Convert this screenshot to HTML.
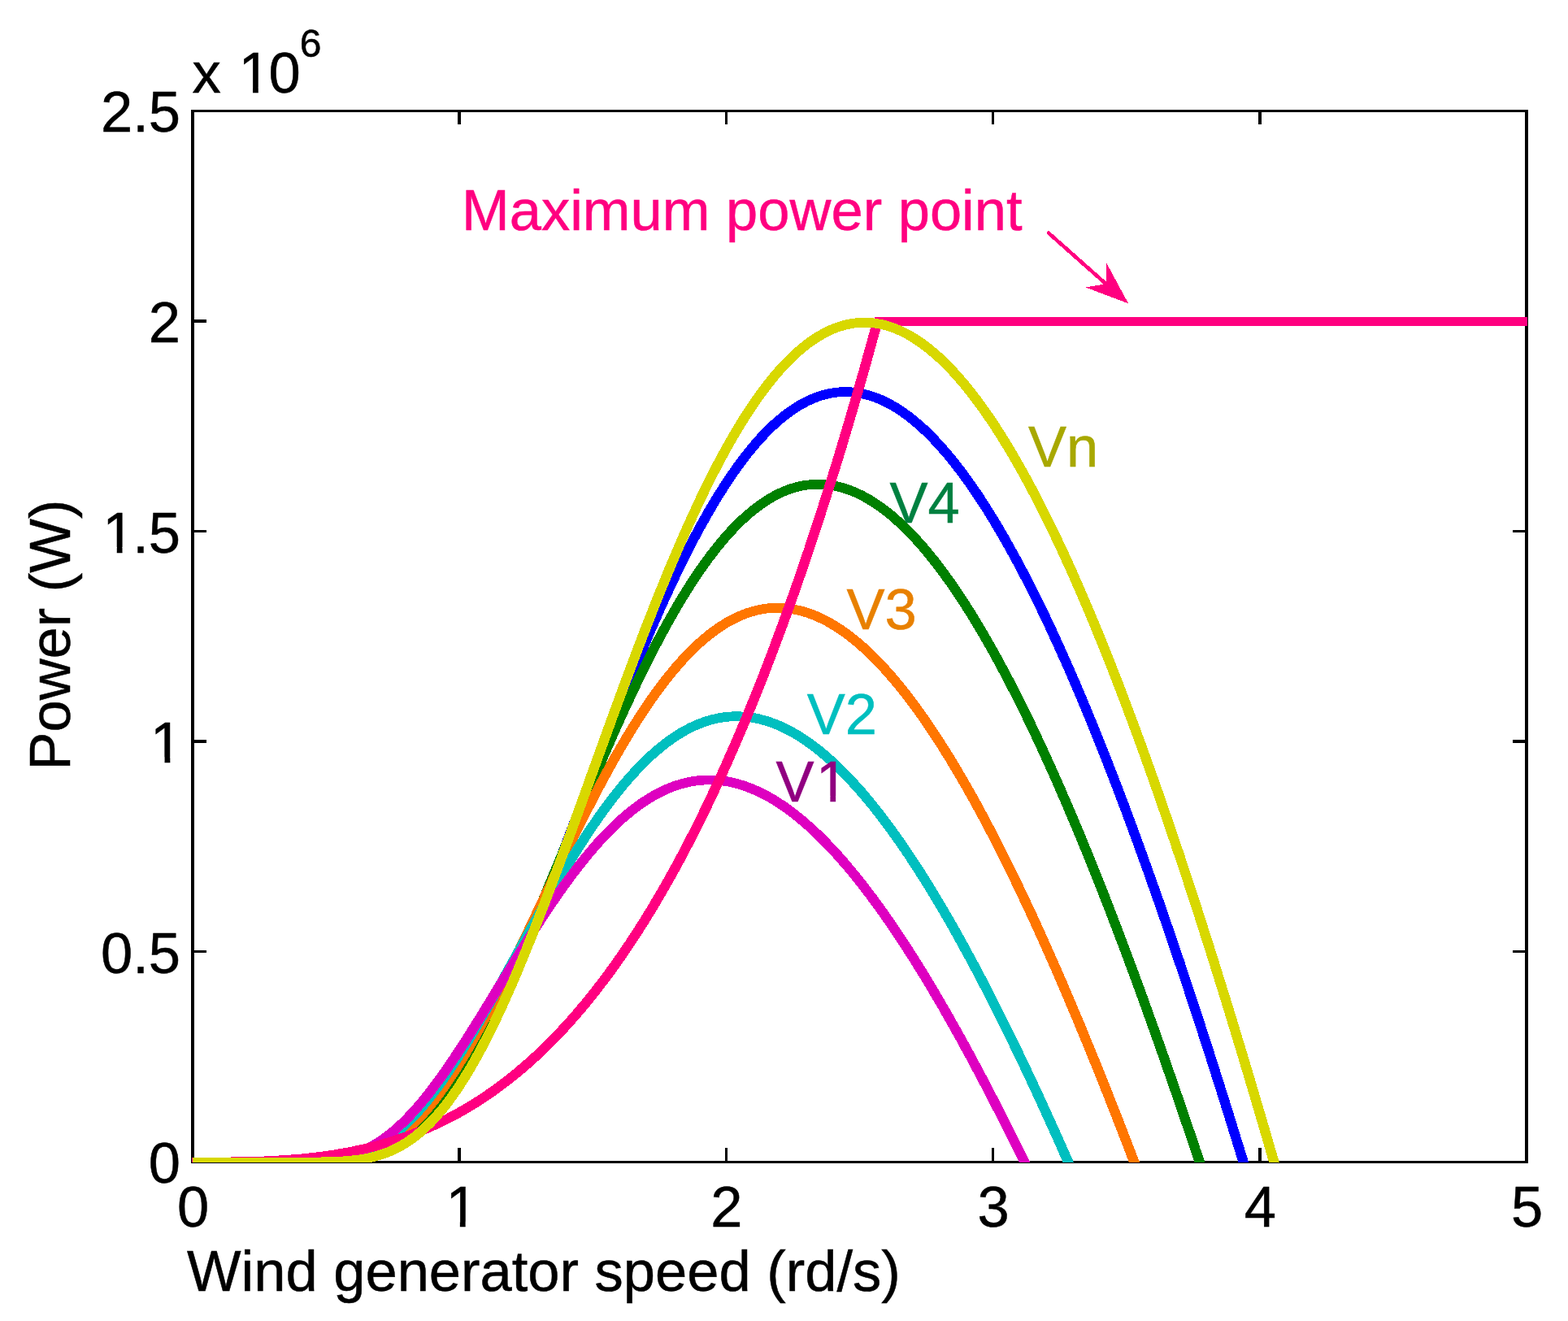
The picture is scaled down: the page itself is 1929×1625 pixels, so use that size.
<!DOCTYPE html>
<html lang="en"><head><meta charset="utf-8"><title>Power (W) vs Wind generator speed (rd/s)</title>
<style>
html,body{margin:0;padding:0;background:#fff;}
body{width:1929px;height:1625px;overflow:hidden;}
svg{display:block;}
text{font-family:"Liberation Sans",Arial,Helvetica,sans-serif;font-size:70.5px;fill:#000;stroke:#000;stroke-width:0.5px;}
</style></head><body>
<svg width="1929" height="1625" viewBox="0 0 1929 1625">
<rect width="1929" height="1625" fill="#fff"/>
<defs><clipPath id="box"><rect x="236" y="136" width="1643" height="1294"/></clipPath></defs>
<g fill="#000" shape-rendering="crispEdges">
<rect x="235" y="135" width="1645" height="3"/>
<rect x="235" y="1428" width="1645" height="3"/>
<rect x="235" y="135" width="4" height="1296"/>
<rect x="1876" y="135" width="4" height="1296"/>
<rect x="563" y="1412" width="4" height="16"/>
<rect x="563" y="138" width="4" height="15"/>
<rect x="892" y="1412" width="3" height="16"/>
<rect x="892" y="138" width="3" height="15"/>
<rect x="1220" y="1412" width="3" height="16"/>
<rect x="1220" y="138" width="3" height="15"/>
<rect x="1548" y="1412" width="4" height="16"/>
<rect x="1548" y="138" width="4" height="15"/>
<rect x="239" y="1169" width="15" height="3"/>
<rect x="1861" y="1169" width="15" height="3"/>
<rect x="239" y="910" width="15" height="4"/>
<rect x="1861" y="910" width="15" height="4"/>
<rect x="239" y="652" width="15" height="3"/>
<rect x="1861" y="652" width="15" height="3"/>
<rect x="239" y="393" width="15" height="4"/>
<rect x="1861" y="393" width="15" height="4"/>
</g>
<g clip-path="url(#box)" shape-rendering="crispEdges">
<path fill="#0000ff" d="M237.0 1435.3 L240.3 1435.3 L243.6 1435.3 L246.8 1435.3 L250.1 1435.3 L253.4 1435.3 L256.7 1435.3 L260.0 1435.3 L263.3 1435.3 L266.5 1435.3 L269.8 1435.3 L273.1 1435.3 L276.4 1435.3 L279.7 1435.3 L282.9 1435.3 L286.2 1435.4 L289.5 1435.3 L292.8 1435.3 L296.1 1435.3 L299.4 1435.3 L302.6 1435.3 L305.9 1435.3 L309.2 1435.3 L312.5 1435.3 L315.8 1435.3 L319.1 1435.3 L322.3 1435.3 L325.6 1435.3 L328.9 1435.3 L332.2 1435.3 L335.5 1435.3 L338.7 1435.3 L342.0 1435.3 L345.3 1435.3 L348.6 1435.3 L351.9 1435.3 L355.2 1435.3 L358.4 1435.3 L361.7 1435.3 L365.0 1435.3 L368.3 1435.3 L371.6 1435.3 L374.9 1435.3 L378.2 1435.3 L381.4 1435.3 L384.7 1435.3 L388.0 1435.2 L391.3 1435.2 L394.6 1435.1 L397.9 1435.1 L401.3 1435.0 L404.6 1434.9 L407.9 1434.8 L411.2 1434.6 L414.5 1434.5 L417.9 1434.3 L421.2 1434.1 L424.6 1433.8 L427.9 1433.5 L431.3 1433.2 L434.6 1432.8 L438.0 1432.3 L441.4 1431.8 L444.8 1431.3 L448.2 1430.7 L451.6 1430.0 L455.0 1429.2 L458.4 1428.3 L461.8 1427.4 L465.3 1426.4 L468.7 1425.2 L472.1 1424.0 L475.5 1422.7 L479.0 1421.2 L482.4 1419.7 L485.8 1418.0 L489.3 1416.2 L492.7 1414.3 L496.1 1412.3 L499.6 1410.1 L503.0 1407.9 L506.4 1405.4 L509.8 1402.9 L513.2 1400.2 L516.6 1397.4 L520.0 1394.4 L523.4 1391.3 L526.8 1388.0 L530.2 1384.6 L533.5 1381.1 L536.9 1377.4 L540.3 1373.6 L543.6 1369.6 L547.0 1365.5 L550.3 1361.2 L553.7 1356.8 L557.0 1352.3 L560.4 1347.6 L563.7 1342.7 L567.0 1337.8 L570.3 1332.6 L573.7 1327.4 L577.0 1322.0 L580.3 1316.4 L583.6 1310.8 L586.9 1305.0 L590.2 1299.0 L593.6 1293.0 L596.9 1286.8 L600.2 1280.5 L603.5 1274.0 L606.8 1267.5 L610.1 1260.8 L613.4 1254.0 L616.7 1247.2 L620.0 1240.2 L623.3 1233.1 L626.6 1225.9 L629.9 1218.6 L633.2 1211.2 L636.5 1203.7 L639.7 1196.1 L643.0 1188.4 L646.3 1180.7 L649.6 1172.9 L652.9 1165.0 L656.2 1157.1 L659.5 1149.0 L662.8 1140.9 L666.1 1132.8 L669.4 1124.6 L672.6 1116.3 L675.9 1108.0 L679.2 1099.7 L682.5 1091.3 L685.8 1082.9 L689.1 1074.4 L692.4 1065.9 L695.6 1057.4 L698.9 1048.9 L702.2 1040.3 L705.5 1031.8 L708.8 1023.2 L712.1 1014.6 L715.3 1006.0 L718.6 997.4 L721.9 988.8 L725.2 980.2 L728.5 971.6 L731.7 963.0 L735.0 954.4 L738.3 945.9 L741.6 937.4 L744.9 928.9 L748.1 920.4 L751.4 911.9 L754.7 903.5 L758.0 895.1 L761.3 886.7 L764.5 878.4 L767.8 870.2 L771.1 861.9 L774.4 853.8 L777.6 845.6 L780.9 837.5 L784.2 829.5 L787.5 821.6 L790.8 813.6 L794.0 805.8 L797.3 798.0 L800.6 790.3 L803.8 782.7 L807.1 775.1 L810.4 767.6 L813.7 760.1 L816.9 752.8 L820.2 745.5 L823.5 738.3 L826.8 731.2 L830.0 724.1 L833.3 717.2 L836.6 710.3 L839.8 703.5 L843.1 696.8 L846.4 690.2 L849.6 683.7 L852.9 677.3 L856.2 671.0 L859.4 664.7 L862.7 658.6 L865.9 652.5 L869.2 646.6 L872.5 640.8 L875.7 635.0 L879.0 629.4 L882.2 623.9 L885.5 618.4 L888.7 613.1 L892.0 607.9 L895.3 602.8 L898.5 597.8 L901.7 592.9 L905.0 588.1 L908.2 583.4 L911.5 578.8 L914.7 574.3 L918.0 570.0 L921.2 565.7 L924.4 561.6 L927.7 557.6 L930.9 553.7 L934.1 549.9 L937.3 546.2 L940.5 542.7 L943.8 539.2 L947.0 535.9 L950.2 532.6 L953.4 529.5 L956.6 526.5 L959.8 523.7 L963.0 520.9 L966.1 518.2 L969.3 515.7 L972.5 513.3 L975.7 511.0 L978.8 508.8 L982.0 506.7 L985.1 504.7 L988.3 502.9 L991.4 501.1 L994.5 499.5 L997.7 497.9 L1000.8 496.5 L1003.9 495.2 L1007.0 494.0 L1010.1 492.9 L1013.2 492.0 L1016.3 491.1 L1019.4 490.3 L1022.5 489.7 L1025.6 489.1 L1028.7 488.7 L1031.8 488.3 L1034.9 488.1 L1037.9 488.0 L1041.0 488.0 L1044.1 488.0 L1047.2 488.2 L1050.3 488.5 L1053.4 489.0 L1056.5 489.5 L1059.6 490.1 L1062.7 490.8 L1065.8 491.6 L1068.9 492.5 L1072.0 493.5 L1075.1 494.7 L1078.2 495.9 L1081.4 497.2 L1084.5 498.6 L1087.6 500.2 L1090.8 501.8 L1093.9 503.5 L1097.1 505.4 L1100.3 507.3 L1103.4 509.4 L1106.6 511.5 L1109.8 513.8 L1113.0 516.1 L1116.1 518.6 L1119.3 521.1 L1122.5 523.7 L1125.7 526.5 L1128.9 529.3 L1132.1 532.3 L1135.4 535.3 L1138.6 538.5 L1141.8 541.7 L1145.0 545.0 L1148.2 548.5 L1151.5 552.0 L1154.7 555.6 L1157.9 559.3 L1161.2 563.1 L1164.4 567.0 L1167.6 571.0 L1170.9 575.1 L1174.1 579.3 L1177.4 583.5 L1180.6 587.9 L1183.8 592.3 L1187.1 596.9 L1190.3 601.5 L1193.6 606.2 L1196.8 611.0 L1200.1 615.9 L1203.4 620.9 L1206.6 625.9 L1209.9 631.1 L1213.1 636.3 L1216.4 641.6 L1219.6 647.0 L1222.9 652.5 L1226.2 658.1 L1229.4 663.7 L1232.7 669.4 L1236.0 675.2 L1239.2 681.1 L1242.5 687.0 L1245.8 693.1 L1249.0 699.2 L1252.3 705.4 L1255.6 711.7 L1258.8 718.0 L1262.1 724.4 L1265.4 730.9 L1268.6 737.5 L1271.9 744.1 L1275.2 750.8 L1278.4 757.6 L1281.7 764.5 L1285.0 771.4 L1288.3 778.4 L1291.5 785.5 L1294.8 792.6 L1298.1 799.8 L1301.3 807.1 L1304.6 814.4 L1307.9 821.8 L1311.2 829.3 L1314.4 836.9 L1317.7 844.5 L1321.0 852.1 L1324.3 859.9 L1327.5 867.7 L1330.8 875.5 L1334.1 883.5 L1337.4 891.5 L1340.6 899.5 L1343.9 907.6 L1347.2 915.8 L1350.5 924.0 L1353.7 932.3 L1357.0 940.7 L1360.3 949.1 L1363.6 957.5 L1366.8 966.1 L1370.1 974.6 L1373.4 983.3 L1376.7 992.0 L1380.0 1000.7 L1383.2 1009.5 L1386.5 1018.4 L1389.8 1027.3 L1393.1 1036.2 L1396.3 1045.3 L1399.6 1054.3 L1402.9 1063.4 L1406.2 1072.6 L1409.5 1081.8 L1412.7 1091.1 L1416.0 1100.4 L1419.3 1109.8 L1422.6 1119.2 L1425.9 1128.7 L1429.1 1138.2 L1432.4 1147.7 L1435.7 1157.4 L1439.0 1167.0 L1442.2 1176.7 L1445.5 1186.5 L1448.8 1196.2 L1452.1 1206.1 L1455.4 1216.0 L1458.6 1225.9 L1461.9 1235.9 L1465.2 1245.9 L1468.5 1255.9 L1471.8 1266.0 L1475.0 1276.1 L1478.3 1286.3 L1481.6 1296.5 L1484.9 1306.8 L1488.2 1317.1 L1491.4 1327.4 L1494.7 1337.8 L1498.0 1348.2 L1501.3 1358.7 L1504.6 1369.2 L1507.8 1379.7 L1511.1 1390.2 L1514.4 1400.8 L1517.7 1411.5 L1521.0 1422.2 L1524.2 1432.9 L1527.5 1443.6 L1530.8 1454.4 L1534.1 1465.2 L1545.8 1461.6 L1542.5 1450.8 L1539.3 1440.0 L1536.0 1429.3 L1532.7 1418.5 L1529.4 1407.9 L1526.1 1397.2 L1522.8 1386.6 L1519.6 1376.0 L1516.3 1365.5 L1513.0 1355.0 L1509.7 1344.5 L1506.4 1334.1 L1503.1 1323.7 L1499.9 1313.4 L1496.6 1303.1 L1493.3 1292.8 L1490.0 1282.6 L1486.7 1272.4 L1483.4 1262.2 L1480.1 1252.1 L1476.9 1242.0 L1473.6 1232.0 L1470.3 1222.0 L1467.0 1212.1 L1463.7 1202.2 L1460.4 1192.4 L1457.2 1182.5 L1453.9 1172.8 L1450.6 1163.1 L1447.3 1153.4 L1444.0 1143.8 L1440.7 1134.2 L1437.4 1124.7 L1434.2 1115.2 L1430.9 1105.7 L1427.6 1096.4 L1424.3 1087.0 L1421.0 1077.7 L1417.7 1068.5 L1414.4 1059.3 L1411.2 1050.2 L1407.9 1041.1 L1404.6 1032.0 L1401.3 1023.1 L1398.0 1014.1 L1394.7 1005.2 L1391.4 996.4 L1388.2 987.6 L1384.9 978.9 L1381.6 970.3 L1378.3 961.7 L1375.0 953.1 L1371.7 944.6 L1368.4 936.2 L1365.1 927.8 L1361.9 919.5 L1358.6 911.2 L1355.3 903.0 L1352.0 894.9 L1348.7 886.8 L1345.4 878.8 L1342.1 870.8 L1338.8 863.0 L1335.6 855.1 L1332.3 847.4 L1329.0 839.6 L1325.7 832.0 L1322.4 824.4 L1319.1 816.9 L1315.8 809.5 L1312.5 802.1 L1309.2 794.8 L1305.9 787.5 L1302.6 780.3 L1299.4 773.2 L1296.1 766.2 L1292.8 759.2 L1289.5 752.3 L1286.2 745.5 L1282.9 738.7 L1279.6 732.1 L1276.3 725.4 L1273.0 718.9 L1269.7 712.4 L1266.4 706.0 L1263.1 699.7 L1259.8 693.5 L1256.5 687.3 L1253.2 681.2 L1249.9 675.2 L1246.6 669.2 L1243.3 663.4 L1240.0 657.6 L1236.7 651.9 L1233.4 646.3 L1230.1 640.7 L1226.8 635.3 L1223.5 629.9 L1220.2 624.6 L1216.9 619.4 L1213.6 614.2 L1210.3 609.2 L1207.0 604.2 L1203.7 599.3 L1200.3 594.5 L1197.0 589.8 L1193.7 585.2 L1190.4 580.7 L1187.1 576.2 L1183.8 571.9 L1180.4 567.6 L1177.1 563.4 L1173.8 559.3 L1170.5 555.3 L1167.1 551.4 L1163.8 547.6 L1160.5 543.8 L1157.1 540.2 L1153.8 536.7 L1150.4 533.2 L1147.1 529.8 L1143.7 526.6 L1140.4 523.4 L1137.0 520.3 L1133.7 517.4 L1130.3 514.5 L1126.9 511.7 L1123.6 509.0 L1120.2 506.5 L1116.8 504.0 L1113.4 501.6 L1110.0 499.3 L1106.6 497.1 L1103.2 495.1 L1099.8 493.1 L1096.4 491.2 L1093.0 489.5 L1089.6 487.8 L1086.1 486.3 L1082.7 484.8 L1079.3 483.5 L1075.8 482.3 L1072.4 481.2 L1068.9 480.2 L1065.5 479.3 L1062.0 478.5 L1058.5 477.8 L1055.1 477.3 L1051.6 476.9 L1048.1 476.5 L1044.6 476.3 L1041.2 476.2 L1037.7 476.3 L1034.2 476.4 L1030.7 476.6 L1027.2 477.0 L1023.8 477.5 L1020.3 478.1 L1016.8 478.8 L1013.3 479.6 L1009.9 480.6 L1006.4 481.7 L1003.0 482.8 L999.5 484.2 L996.1 485.6 L992.6 487.1 L989.2 488.8 L985.7 490.5 L982.3 492.4 L978.9 494.4 L975.5 496.6 L972.1 498.8 L968.7 501.1 L965.3 503.6 L961.9 506.2 L958.5 508.9 L955.1 511.7 L951.8 514.6 L948.4 517.6 L945.0 520.8 L941.7 524.0 L938.3 527.4 L934.9 530.9 L931.6 534.4 L928.2 538.1 L924.9 542.0 L921.6 545.9 L918.2 549.9 L914.9 554.0 L911.6 558.3 L908.2 562.7 L904.9 567.1 L901.6 571.7 L898.3 576.4 L894.9 581.2 L891.6 586.1 L888.3 591.1 L885.0 596.2 L881.7 601.4 L878.4 606.7 L875.0 612.1 L871.7 617.6 L868.4 623.2 L865.1 628.9 L861.8 634.8 L858.5 640.7 L855.2 646.7 L851.9 652.8 L848.6 659.0 L845.3 665.3 L842.0 671.7 L838.7 678.2 L835.4 684.8 L832.1 691.4 L828.8 698.2 L825.5 705.0 L822.2 711.9 L818.9 718.9 L815.6 726.0 L812.3 733.2 L809.1 740.4 L805.8 747.8 L802.5 755.2 L799.2 762.7 L795.9 770.2 L792.6 777.8 L789.3 785.5 L786.0 793.3 L782.7 801.1 L779.4 808.9 L776.1 816.9 L772.9 824.9 L769.6 832.9 L766.3 841.0 L763.0 849.2 L759.7 857.4 L756.4 865.6 L753.1 873.9 L749.9 882.3 L746.6 890.6 L743.3 899.0 L740.0 907.5 L736.7 915.9 L733.4 924.4 L730.1 933.0 L726.9 941.5 L723.6 950.1 L720.3 958.6 L717.0 967.2 L713.7 975.8 L710.4 984.4 L707.2 993.0 L703.9 1001.6 L700.6 1010.2 L697.3 1018.8 L694.0 1027.4 L690.8 1036.0 L687.5 1044.5 L684.2 1053.0 L680.9 1061.5 L677.6 1070.0 L674.4 1078.4 L671.1 1086.9 L667.8 1095.2 L664.5 1103.5 L661.2 1111.8 L658.0 1120.1 L654.7 1128.2 L651.4 1136.3 L648.1 1144.4 L644.9 1152.4 L641.6 1160.3 L638.3 1168.2 L635.0 1175.9 L631.8 1183.6 L628.5 1191.2 L625.2 1198.8 L622.0 1206.2 L618.7 1213.5 L615.4 1220.8 L612.2 1227.9 L608.9 1235.0 L605.6 1241.9 L602.4 1248.7 L599.1 1255.4 L595.8 1262.0 L592.6 1268.5 L589.3 1274.8 L586.1 1281.1 L582.8 1287.2 L579.5 1293.1 L576.3 1299.0 L573.0 1304.7 L569.8 1310.2 L566.5 1315.6 L563.3 1320.9 L560.1 1326.1 L556.8 1331.0 L553.6 1335.9 L550.4 1340.6 L547.1 1345.1 L543.9 1349.5 L540.7 1353.8 L537.5 1357.9 L534.3 1361.9 L531.1 1365.7 L527.9 1369.3 L524.7 1372.8 L521.5 1376.2 L518.3 1379.4 L515.1 1382.5 L511.9 1385.4 L508.8 1388.2 L505.6 1390.8 L502.4 1393.3 L499.3 1395.7 L496.1 1398.0 L493.0 1400.1 L489.9 1402.1 L486.7 1403.9 L483.6 1405.7 L480.5 1407.3 L477.3 1408.9 L474.2 1410.3 L471.1 1411.6 L467.9 1412.8 L464.8 1414.0 L461.7 1415.0 L458.5 1416.0 L455.4 1416.9 L452.2 1417.7 L449.1 1418.4 L445.9 1419.1 L442.7 1419.7 L439.6 1420.2 L436.4 1420.7 L433.2 1421.1 L430.0 1421.5 L426.8 1421.8 L423.6 1422.1 L420.4 1422.4 L417.1 1422.6 L413.9 1422.8 L410.7 1422.9 L407.4 1423.1 L404.2 1423.2 L400.9 1423.3 L397.7 1423.4 L394.4 1423.4 L391.2 1423.5 L387.9 1423.5 L384.6 1423.5 L381.4 1423.6 L378.1 1423.6 L374.8 1423.6 L371.5 1423.6 L368.3 1423.6 L365.0 1423.6 L361.7 1423.6 L358.4 1423.6 L355.1 1423.6 L351.9 1423.6 L348.6 1423.6 L345.3 1423.6 L342.0 1423.6 L338.7 1423.6 L335.5 1423.6 L332.2 1423.6 L328.9 1423.6 L325.6 1423.6 L322.3 1423.6 L319.0 1423.6 L315.8 1423.6 L312.5 1423.6 L309.2 1423.6 L305.9 1423.6 L302.6 1423.6 L299.4 1423.6 L296.1 1423.6 L292.8 1423.6 L289.5 1423.6 L286.2 1423.6 L282.9 1423.7 L279.7 1423.7 L276.4 1423.7 L273.1 1423.7 L269.8 1423.7 L266.5 1423.7 L263.3 1423.7 L260.0 1423.7 L256.7 1423.7 L253.4 1423.7 L250.1 1423.7 L246.8 1423.7 L243.6 1423.7 L240.3 1423.7 L237.0 1423.7Z"/>
<path fill="#008000" d="M237.0 1435.3 L240.3 1435.3 L243.6 1435.3 L246.8 1435.3 L250.1 1435.3 L253.4 1435.3 L256.7 1435.3 L260.0 1435.3 L263.3 1435.3 L266.5 1435.3 L269.8 1435.3 L273.1 1435.3 L276.4 1435.3 L279.7 1435.3 L282.9 1435.3 L286.2 1435.3 L289.5 1435.3 L292.8 1435.3 L296.1 1435.3 L299.4 1435.3 L302.6 1435.3 L305.9 1435.3 L309.2 1435.3 L312.5 1435.3 L315.8 1435.3 L319.1 1435.3 L322.3 1435.3 L325.6 1435.3 L328.9 1435.3 L332.2 1435.3 L335.5 1435.3 L338.7 1435.3 L342.0 1435.3 L345.3 1435.3 L348.6 1435.3 L351.9 1435.3 L355.2 1435.3 L358.4 1435.3 L361.7 1435.3 L365.0 1435.3 L368.3 1435.3 L371.6 1435.3 L374.9 1435.3 L378.2 1435.3 L381.5 1435.2 L384.8 1435.2 L388.1 1435.2 L391.4 1435.1 L394.7 1435.0 L398.0 1434.9 L401.3 1434.8 L404.6 1434.7 L408.0 1434.5 L411.3 1434.4 L414.6 1434.2 L418.0 1433.9 L421.3 1433.6 L424.7 1433.3 L428.1 1432.9 L431.4 1432.5 L434.8 1432.0 L438.2 1431.4 L441.6 1430.8 L445.0 1430.1 L448.4 1429.3 L451.8 1428.5 L455.3 1427.6 L458.7 1426.5 L462.1 1425.4 L465.5 1424.2 L469.0 1422.9 L472.4 1421.5 L475.8 1419.9 L479.3 1418.3 L482.7 1416.5 L486.1 1414.6 L489.6 1412.6 L493.0 1410.4 L496.4 1408.2 L499.8 1405.8 L503.2 1403.2 L506.6 1400.6 L510.0 1397.8 L513.4 1394.8 L516.8 1391.8 L520.2 1388.5 L523.6 1385.2 L526.9 1381.7 L530.3 1378.1 L533.7 1374.3 L537.0 1370.4 L540.4 1366.3 L543.7 1362.1 L547.1 1357.8 L550.4 1353.4 L553.7 1348.8 L557.1 1344.0 L560.4 1339.2 L563.7 1334.2 L567.1 1329.1 L570.4 1323.8 L573.7 1318.4 L577.0 1312.9 L580.3 1307.3 L583.6 1301.5 L586.9 1295.7 L590.3 1289.7 L593.6 1283.6 L596.9 1277.4 L600.2 1271.1 L603.5 1264.7 L606.8 1258.2 L610.1 1251.6 L613.4 1244.9 L616.7 1238.1 L620.0 1231.2 L623.3 1224.3 L626.5 1217.2 L629.8 1210.1 L633.1 1202.9 L636.4 1195.7 L639.7 1188.3 L643.0 1180.9 L646.3 1173.5 L649.6 1166.0 L652.9 1158.4 L656.2 1150.8 L659.4 1143.2 L662.7 1135.5 L666.0 1127.8 L669.3 1120.0 L672.6 1112.2 L675.9 1104.4 L679.2 1096.6 L682.4 1088.7 L685.7 1080.9 L689.0 1073.0 L692.3 1065.1 L695.6 1057.2 L698.9 1049.3 L702.1 1041.4 L705.4 1033.5 L708.7 1025.6 L712.0 1017.7 L715.3 1009.8 L718.5 1002.0 L721.8 994.2 L725.1 986.4 L728.4 978.6 L731.7 970.8 L734.9 963.1 L738.2 955.4 L741.5 947.8 L744.8 940.2 L748.0 932.6 L751.3 925.1 L754.6 917.6 L757.9 910.2 L761.1 902.8 L764.4 895.5 L767.7 888.2 L771.0 881.0 L774.2 873.9 L777.5 866.8 L780.8 859.8 L784.1 852.8 L787.3 846.0 L790.6 839.1 L793.9 832.4 L797.1 825.7 L800.4 819.2 L803.7 812.7 L806.9 806.2 L810.2 799.9 L813.5 793.6 L816.7 787.4 L820.0 781.4 L823.3 775.3 L826.5 769.4 L829.8 763.6 L833.1 757.9 L836.3 752.2 L839.6 746.7 L842.8 741.2 L846.1 735.9 L849.3 730.6 L852.6 725.4 L855.9 720.4 L859.1 715.4 L862.4 710.5 L865.6 705.8 L868.8 701.1 L872.1 696.5 L875.3 692.1 L878.6 687.7 L881.8 683.5 L885.0 679.3 L888.3 675.3 L891.5 671.4 L894.7 667.5 L898.0 663.8 L901.2 660.2 L904.4 656.7 L907.6 653.3 L910.8 650.0 L914.0 646.9 L917.2 643.8 L920.4 640.8 L923.6 638.0 L926.8 635.2 L930.0 632.6 L933.2 630.1 L936.4 627.7 L939.5 625.4 L942.7 623.2 L945.9 621.1 L949.0 619.1 L952.2 617.2 L955.3 615.5 L958.5 613.8 L961.6 612.3 L964.7 610.8 L967.9 609.5 L971.0 608.3 L974.1 607.1 L977.2 606.1 L980.3 605.2 L983.4 604.4 L986.5 603.7 L989.6 603.1 L992.7 602.6 L995.8 602.1 L998.9 601.8 L1002.0 601.6 L1005.1 601.5 L1008.2 601.5 L1011.3 601.6 L1014.4 601.8 L1017.5 602.2 L1020.6 602.6 L1023.7 603.1 L1026.8 603.7 L1029.9 604.4 L1033.0 605.2 L1036.1 606.1 L1039.2 607.1 L1042.3 608.2 L1045.5 609.4 L1048.6 610.7 L1051.7 612.0 L1054.9 613.5 L1058.0 615.1 L1061.2 616.8 L1064.4 618.6 L1067.5 620.5 L1070.7 622.4 L1073.9 624.5 L1077.0 626.7 L1080.2 628.9 L1083.4 631.3 L1086.6 633.7 L1089.8 636.3 L1093.0 638.9 L1096.2 641.7 L1099.4 644.5 L1102.6 647.4 L1105.8 650.4 L1109.1 653.5 L1112.3 656.7 L1115.5 660.0 L1118.7 663.4 L1122.0 666.9 L1125.2 670.5 L1128.4 674.1 L1131.7 677.8 L1134.9 681.7 L1138.1 685.6 L1141.4 689.6 L1144.6 693.7 L1147.9 697.8 L1151.1 702.1 L1154.4 706.4 L1157.6 710.8 L1160.8 715.4 L1164.1 719.9 L1167.4 724.6 L1170.6 729.4 L1173.9 734.2 L1177.1 739.1 L1180.4 744.1 L1183.6 749.2 L1186.9 754.3 L1190.2 759.5 L1193.4 764.8 L1196.7 770.2 L1199.9 775.7 L1203.2 781.2 L1206.5 786.8 L1209.7 792.5 L1213.0 798.2 L1216.3 804.1 L1219.5 809.9 L1222.8 815.9 L1226.1 822.0 L1229.3 828.1 L1232.6 834.2 L1235.9 840.5 L1239.1 846.8 L1242.4 853.2 L1245.7 859.6 L1248.9 866.2 L1252.2 872.7 L1255.5 879.4 L1258.8 886.1 L1262.0 892.9 L1265.3 899.7 L1268.6 906.6 L1271.8 913.6 L1275.1 920.6 L1278.4 927.7 L1281.7 934.9 L1284.9 942.1 L1288.2 949.4 L1291.5 956.7 L1294.8 964.1 L1298.0 971.6 L1301.3 979.1 L1304.6 986.6 L1307.9 994.3 L1311.1 1001.9 L1314.4 1009.7 L1317.7 1017.5 L1321.0 1025.3 L1324.2 1033.2 L1327.5 1041.2 L1330.8 1049.2 L1334.1 1057.2 L1337.3 1065.3 L1340.6 1073.5 L1343.9 1081.7 L1347.2 1090.0 L1350.5 1098.3 L1353.7 1106.7 L1357.0 1115.1 L1360.3 1123.5 L1363.6 1132.1 L1366.8 1140.6 L1370.1 1149.2 L1373.4 1157.9 L1376.7 1166.6 L1380.0 1175.3 L1383.2 1184.1 L1386.5 1192.9 L1389.8 1201.8 L1393.1 1210.7 L1396.3 1219.7 L1399.6 1228.7 L1402.9 1237.8 L1406.2 1246.9 L1409.5 1256.0 L1412.7 1265.2 L1416.0 1274.4 L1419.3 1283.7 L1422.6 1293.0 L1425.9 1302.3 L1429.1 1311.7 L1432.4 1321.1 L1435.7 1330.5 L1439.0 1340.0 L1442.3 1349.6 L1445.5 1359.1 L1448.8 1368.7 L1452.1 1378.4 L1455.4 1388.0 L1458.7 1397.7 L1461.9 1407.5 L1465.2 1417.3 L1468.5 1427.1 L1471.8 1436.9 L1475.1 1446.8 L1478.3 1456.7 L1481.6 1466.7 L1493.3 1462.8 L1490.0 1452.9 L1486.7 1442.9 L1483.4 1433.0 L1480.1 1423.2 L1476.8 1413.4 L1473.6 1403.6 L1470.3 1393.8 L1467.0 1384.1 L1463.7 1374.4 L1460.4 1364.8 L1457.1 1355.1 L1453.9 1345.6 L1450.6 1336.0 L1447.3 1326.5 L1444.0 1317.1 L1440.7 1307.6 L1437.4 1298.2 L1434.2 1288.9 L1430.9 1279.6 L1427.6 1270.3 L1424.3 1261.1 L1421.0 1251.9 L1417.7 1242.7 L1414.4 1233.6 L1411.2 1224.5 L1407.9 1215.5 L1404.6 1206.5 L1401.3 1197.6 L1398.0 1188.7 L1394.7 1179.8 L1391.4 1171.0 L1388.2 1162.3 L1384.9 1153.5 L1381.6 1144.9 L1378.3 1136.2 L1375.0 1127.7 L1371.7 1119.1 L1368.4 1110.6 L1365.2 1102.2 L1361.9 1093.8 L1358.6 1085.5 L1355.3 1077.2 L1352.0 1069.0 L1348.7 1060.8 L1345.4 1052.6 L1342.1 1044.5 L1338.9 1036.5 L1335.6 1028.5 L1332.3 1020.6 L1329.0 1012.7 L1325.7 1004.9 L1322.4 997.1 L1319.1 989.4 L1315.8 981.8 L1312.5 974.2 L1309.3 966.6 L1306.0 959.2 L1302.7 951.7 L1299.4 944.4 L1296.1 937.1 L1292.8 929.8 L1289.5 922.6 L1286.2 915.5 L1282.9 908.4 L1279.6 901.4 L1276.4 894.5 L1273.1 887.6 L1269.8 880.8 L1266.5 874.0 L1263.2 867.3 L1259.9 860.7 L1256.6 854.1 L1253.3 847.6 L1250.0 841.2 L1246.7 834.8 L1243.4 828.5 L1240.1 822.3 L1236.8 816.2 L1233.5 810.1 L1230.2 804.0 L1226.9 798.1 L1223.6 792.2 L1220.3 786.4 L1217.0 780.7 L1213.7 775.0 L1210.4 769.4 L1207.1 763.9 L1203.8 758.5 L1200.5 753.1 L1197.2 747.8 L1193.9 742.6 L1190.6 737.5 L1187.3 732.4 L1184.0 727.4 L1180.7 722.5 L1177.4 717.7 L1174.1 712.9 L1170.8 708.3 L1167.4 703.7 L1164.1 699.2 L1160.8 694.7 L1157.5 690.4 L1154.2 686.1 L1150.9 682.0 L1147.5 677.9 L1144.2 673.9 L1140.9 669.9 L1137.6 666.1 L1134.2 662.3 L1130.9 658.7 L1127.6 655.1 L1124.2 651.6 L1120.9 648.2 L1117.5 644.9 L1114.2 641.7 L1110.8 638.5 L1107.5 635.5 L1104.1 632.5 L1100.8 629.7 L1097.4 626.9 L1094.0 624.2 L1090.7 621.7 L1087.3 619.2 L1083.9 616.8 L1080.5 614.5 L1077.1 612.3 L1073.7 610.2 L1070.3 608.2 L1066.9 606.3 L1063.5 604.5 L1060.1 602.8 L1056.7 601.2 L1053.3 599.7 L1049.8 598.3 L1046.4 597.0 L1043.0 595.8 L1039.5 594.7 L1036.1 593.7 L1032.6 592.9 L1029.2 592.1 L1025.7 591.4 L1022.2 590.9 L1018.8 590.5 L1015.3 590.1 L1011.8 589.9 L1008.4 589.8 L1004.9 589.8 L1001.4 589.9 L998.0 590.1 L994.5 590.5 L991.0 590.9 L987.5 591.4 L984.1 592.1 L980.6 592.9 L977.2 593.8 L973.7 594.8 L970.2 595.9 L966.8 597.1 L963.3 598.5 L959.9 599.9 L956.5 601.5 L953.0 603.2 L949.6 604.9 L946.2 606.8 L942.8 608.9 L939.4 611.0 L936.0 613.2 L932.6 615.5 L929.2 618.0 L925.8 620.5 L922.4 623.2 L919.1 626.0 L915.7 628.9 L912.3 631.9 L908.9 635.0 L905.6 638.2 L902.2 641.5 L898.9 644.9 L895.5 648.4 L892.2 652.1 L888.8 655.8 L885.5 659.6 L882.2 663.6 L878.8 667.6 L875.5 671.8 L872.2 676.0 L868.8 680.4 L865.5 684.9 L862.2 689.4 L858.9 694.1 L855.6 698.8 L852.2 703.7 L848.9 708.7 L845.6 713.7 L842.3 718.9 L839.0 724.1 L835.7 729.5 L832.4 734.9 L829.1 740.4 L825.8 746.1 L822.5 751.8 L819.2 757.6 L815.9 763.5 L812.6 769.5 L809.3 775.5 L806.0 781.7 L802.7 787.9 L799.4 794.3 L796.1 800.7 L792.8 807.1 L789.5 813.7 L786.2 820.3 L782.9 827.0 L779.6 833.8 L776.3 840.7 L773.0 847.6 L769.7 854.6 L766.4 861.6 L763.1 868.8 L759.8 875.9 L756.5 883.2 L753.3 890.5 L750.0 897.8 L746.7 905.2 L743.4 912.7 L740.1 920.2 L736.8 927.7 L733.5 935.3 L730.2 942.9 L726.9 950.6 L723.7 958.3 L720.4 966.1 L717.1 973.8 L713.8 981.6 L710.5 989.4 L707.2 997.3 L704.0 1005.1 L700.7 1013.0 L697.4 1020.9 L694.1 1028.8 L690.8 1036.7 L687.5 1044.6 L684.3 1052.5 L681.0 1060.4 L677.7 1068.3 L674.4 1076.1 L671.1 1084.0 L667.9 1091.9 L664.6 1099.7 L661.3 1107.5 L658.0 1115.2 L654.7 1123.0 L651.5 1130.7 L648.2 1138.4 L644.9 1146.0 L641.6 1153.6 L638.4 1161.1 L635.1 1168.6 L631.8 1176.0 L628.5 1183.3 L625.3 1190.6 L622.0 1197.8 L618.7 1205.0 L615.4 1212.1 L612.2 1219.0 L608.9 1226.0 L605.6 1232.8 L602.4 1239.5 L599.1 1246.1 L595.8 1252.7 L592.6 1259.1 L589.3 1265.5 L586.0 1271.7 L582.8 1277.8 L579.5 1283.8 L576.3 1289.7 L573.0 1295.5 L569.8 1301.1 L566.5 1306.7 L563.3 1312.1 L560.0 1317.3 L556.8 1322.5 L553.5 1327.5 L550.3 1332.4 L547.1 1337.1 L543.8 1341.7 L540.6 1346.1 L537.4 1350.5 L534.2 1354.6 L530.9 1358.7 L527.7 1362.6 L524.5 1366.3 L521.3 1369.9 L518.1 1373.4 L514.9 1376.7 L511.7 1379.9 L508.6 1382.9 L505.4 1385.8 L502.2 1388.5 L499.1 1391.2 L495.9 1393.7 L492.7 1396.0 L489.6 1398.2 L486.4 1400.3 L483.3 1402.3 L480.2 1404.2 L477.0 1405.9 L473.9 1407.6 L470.8 1409.1 L467.6 1410.5 L464.5 1411.8 L461.4 1413.0 L458.2 1414.2 L455.1 1415.2 L452.0 1416.2 L448.8 1417.0 L445.7 1417.8 L442.5 1418.6 L439.4 1419.2 L436.2 1419.8 L433.0 1420.3 L429.8 1420.8 L426.6 1421.2 L423.4 1421.6 L420.2 1421.9 L417.0 1422.2 L413.8 1422.4 L410.6 1422.7 L407.4 1422.8 L404.1 1423.0 L400.9 1423.1 L397.6 1423.2 L394.4 1423.3 L391.1 1423.4 L387.9 1423.4 L384.6 1423.5 L381.3 1423.5 L378.1 1423.6 L374.8 1423.6 L371.5 1423.6 L368.3 1423.6 L365.0 1423.6 L361.7 1423.6 L358.4 1423.6 L355.1 1423.6 L351.9 1423.6 L348.6 1423.6 L345.3 1423.6 L342.0 1423.6 L338.7 1423.6 L335.5 1423.6 L332.2 1423.6 L328.9 1423.6 L325.6 1423.6 L322.3 1423.6 L319.0 1423.6 L315.8 1423.6 L312.5 1423.6 L309.2 1423.6 L305.9 1423.6 L302.6 1423.6 L299.4 1423.6 L296.1 1423.6 L292.8 1423.6 L289.5 1423.6 L286.2 1423.6 L282.9 1423.7 L279.7 1423.7 L276.4 1423.7 L273.1 1423.7 L269.8 1423.7 L266.5 1423.7 L263.3 1423.7 L260.0 1423.7 L256.7 1423.7 L253.4 1423.7 L250.1 1423.7 L246.8 1423.7 L243.6 1423.7 L240.3 1423.7 L237.0 1423.7Z"/>
<path fill="#ff7600" d="M237.0 1435.3 L240.3 1435.3 L243.6 1435.3 L246.8 1435.3 L250.1 1435.3 L253.4 1435.3 L256.7 1435.3 L260.0 1435.3 L263.3 1435.3 L266.5 1435.3 L269.8 1435.3 L273.1 1435.3 L276.4 1435.3 L279.7 1435.3 L282.9 1435.3 L286.2 1435.3 L289.5 1435.3 L292.8 1435.3 L296.1 1435.3 L299.4 1435.3 L302.6 1435.3 L305.9 1435.3 L309.2 1435.3 L312.5 1435.3 L315.8 1435.3 L319.1 1435.3 L322.3 1435.3 L325.6 1435.3 L328.9 1435.3 L332.2 1435.3 L335.5 1435.3 L338.7 1435.3 L342.0 1435.3 L345.3 1435.3 L348.6 1435.3 L351.9 1435.3 L355.2 1435.3 L358.4 1435.3 L361.7 1435.3 L365.0 1435.3 L368.3 1435.3 L371.6 1435.3 L374.9 1435.2 L378.2 1435.2 L381.5 1435.1 L384.8 1435.1 L388.1 1435.0 L391.4 1434.9 L394.8 1434.8 L398.1 1434.6 L401.4 1434.5 L404.8 1434.3 L408.1 1434.0 L411.5 1433.8 L414.8 1433.4 L418.2 1433.1 L421.6 1432.6 L425.0 1432.2 L428.3 1431.6 L431.7 1431.0 L435.1 1430.3 L438.6 1429.6 L442.0 1428.8 L445.4 1427.8 L448.8 1426.8 L452.2 1425.7 L455.7 1424.5 L459.1 1423.2 L462.5 1421.8 L466.0 1420.3 L469.4 1418.6 L472.8 1416.9 L476.3 1415.0 L479.7 1413.0 L483.1 1410.9 L486.5 1408.7 L489.9 1406.3 L493.3 1403.8 L496.7 1401.2 L500.1 1398.4 L503.5 1395.6 L506.9 1392.5 L510.3 1389.4 L513.7 1386.1 L517.0 1382.7 L520.4 1379.2 L523.8 1375.5 L527.1 1371.7 L530.5 1367.8 L533.8 1363.8 L537.2 1359.6 L540.5 1355.3 L543.8 1350.9 L547.2 1346.3 L550.5 1341.7 L553.8 1336.9 L557.1 1332.0 L560.5 1327.0 L563.8 1321.9 L567.1 1316.7 L570.4 1311.3 L573.7 1305.9 L577.0 1300.4 L580.3 1294.8 L583.6 1289.0 L586.9 1283.2 L590.2 1277.4 L593.5 1271.4 L596.8 1265.3 L600.1 1259.2 L603.4 1253.0 L606.7 1246.7 L610.0 1240.4 L613.3 1234.0 L616.6 1227.5 L619.9 1221.0 L623.2 1214.5 L626.5 1207.8 L629.8 1201.2 L633.1 1194.5 L636.3 1187.8 L639.6 1181.0 L642.9 1174.2 L646.2 1167.4 L649.5 1160.5 L652.8 1153.7 L656.1 1146.8 L659.3 1139.9 L662.6 1133.0 L665.9 1126.1 L669.2 1119.2 L672.5 1112.3 L675.8 1105.4 L679.0 1098.5 L682.3 1091.6 L685.6 1084.7 L688.9 1077.8 L692.2 1071.0 L695.4 1064.2 L698.7 1057.4 L702.0 1050.7 L705.3 1043.9 L708.5 1037.2 L711.8 1030.6 L715.1 1024.0 L718.4 1017.4 L721.6 1010.9 L724.9 1004.4 L728.2 998.0 L731.5 991.6 L734.7 985.2 L738.0 979.0 L741.3 972.8 L744.5 966.6 L747.8 960.5 L751.1 954.5 L754.3 948.5 L757.6 942.6 L760.9 936.8 L764.1 931.1 L767.4 925.4 L770.7 919.8 L773.9 914.3 L777.2 908.8 L780.5 903.4 L783.7 898.2 L787.0 892.9 L790.2 887.8 L793.5 882.8 L796.7 877.8 L800.0 873.0 L803.2 868.2 L806.5 863.5 L809.7 858.9 L813.0 854.4 L816.2 850.0 L819.5 845.7 L822.7 841.5 L826.0 837.3 L829.2 833.3 L832.4 829.3 L835.7 825.5 L838.9 821.8 L842.1 818.1 L845.3 814.6 L848.6 811.1 L851.8 807.8 L855.0 804.5 L858.2 801.4 L861.4 798.3 L864.6 795.4 L867.8 792.6 L871.0 789.8 L874.2 787.2 L877.4 784.6 L880.6 782.2 L883.8 779.9 L887.0 777.6 L890.1 775.5 L893.3 773.5 L896.5 771.5 L899.6 769.7 L902.8 768.0 L905.9 766.3 L909.1 764.8 L912.2 763.4 L915.3 762.0 L918.5 760.8 L921.6 759.7 L924.7 758.6 L927.8 757.7 L930.9 756.9 L934.1 756.1 L937.2 755.5 L940.3 754.9 L943.4 754.5 L946.5 754.1 L949.6 753.8 L952.7 753.7 L955.8 753.6 L958.9 753.6 L962.0 753.7 L965.1 753.9 L968.2 754.3 L971.3 754.7 L974.5 755.2 L977.6 755.7 L980.7 756.4 L983.8 757.2 L986.9 758.1 L990.1 759.0 L993.2 760.1 L996.3 761.2 L999.5 762.4 L1002.6 763.7 L1005.8 765.2 L1008.9 766.7 L1012.1 768.2 L1015.3 769.9 L1018.4 771.7 L1021.6 773.6 L1024.8 775.5 L1028.0 777.6 L1031.1 779.7 L1034.3 781.9 L1037.5 784.2 L1040.7 786.6 L1043.9 789.1 L1047.1 791.6 L1050.3 794.3 L1053.5 797.0 L1056.8 799.9 L1060.0 802.8 L1063.2 805.8 L1066.4 808.8 L1069.6 812.0 L1072.9 815.2 L1076.1 818.6 L1079.3 822.0 L1082.6 825.4 L1085.8 829.0 L1089.0 832.7 L1092.3 836.4 L1095.5 840.2 L1098.8 844.1 L1102.0 848.0 L1105.3 852.1 L1108.5 856.2 L1111.8 860.4 L1115.0 864.6 L1118.3 869.0 L1121.5 873.4 L1124.8 877.8 L1128.0 882.4 L1131.3 887.0 L1134.5 891.7 L1137.8 896.5 L1141.0 901.3 L1144.3 906.3 L1147.6 911.2 L1150.8 916.3 L1154.1 921.4 L1157.3 926.6 L1160.6 931.8 L1163.9 937.1 L1167.1 942.5 L1170.4 948.0 L1173.7 953.5 L1176.9 959.1 L1180.2 964.7 L1183.5 970.4 L1186.7 976.2 L1190.0 982.0 L1193.3 987.9 L1196.5 993.8 L1199.8 999.8 L1203.1 1005.9 L1206.4 1012.0 L1209.6 1018.2 L1212.9 1024.4 L1216.2 1030.7 L1219.4 1037.1 L1222.7 1043.5 L1226.0 1049.9 L1229.3 1056.4 L1232.5 1063.0 L1235.8 1069.6 L1239.1 1076.3 L1242.3 1083.0 L1245.6 1089.8 L1248.9 1096.6 L1252.2 1103.5 L1255.4 1110.5 L1258.7 1117.4 L1262.0 1124.5 L1265.3 1131.6 L1268.5 1138.7 L1271.8 1145.9 L1275.1 1153.1 L1278.4 1160.4 L1281.6 1167.7 L1284.9 1175.1 L1288.2 1182.5 L1291.5 1189.9 L1294.8 1197.4 L1298.0 1205.0 L1301.3 1212.6 L1304.6 1220.2 L1307.9 1227.9 L1311.1 1235.6 L1314.4 1243.3 L1317.7 1251.1 L1321.0 1259.0 L1324.2 1266.8 L1327.5 1274.8 L1330.8 1282.7 L1334.1 1290.7 L1337.4 1298.7 L1340.6 1306.8 L1343.9 1314.9 L1347.2 1323.1 L1350.5 1331.3 L1353.7 1339.5 L1357.0 1347.7 L1360.3 1356.0 L1363.6 1364.4 L1366.9 1372.7 L1370.1 1381.1 L1373.4 1389.5 L1376.7 1398.0 L1380.0 1406.5 L1383.3 1415.0 L1386.5 1423.6 L1389.8 1432.2 L1393.1 1440.8 L1396.4 1449.5 L1399.7 1458.1 L1411.1 1453.8 L1407.8 1445.1 L1404.6 1436.4 L1401.3 1427.8 L1398.0 1419.2 L1394.7 1410.6 L1391.4 1402.1 L1388.1 1393.6 L1384.9 1385.1 L1381.6 1376.7 L1378.3 1368.2 L1375.0 1359.9 L1371.7 1351.5 L1368.4 1343.2 L1365.1 1334.9 L1361.9 1326.7 L1358.6 1318.5 L1355.3 1310.3 L1352.0 1302.2 L1348.7 1294.1 L1345.4 1286.1 L1342.1 1278.1 L1338.9 1270.1 L1335.6 1262.1 L1332.3 1254.2 L1329.0 1246.4 L1325.7 1238.6 L1322.4 1230.8 L1319.1 1223.1 L1315.8 1215.4 L1312.6 1207.7 L1309.3 1200.1 L1306.0 1192.5 L1302.7 1185.0 L1299.4 1177.5 L1296.1 1170.1 L1292.8 1162.7 L1289.5 1155.4 L1286.3 1148.1 L1283.0 1140.8 L1279.7 1133.6 L1276.4 1126.4 L1273.1 1119.3 L1269.8 1112.3 L1266.5 1105.3 L1263.2 1098.3 L1259.9 1091.4 L1256.7 1084.5 L1253.4 1077.7 L1250.1 1070.9 L1246.8 1064.2 L1243.5 1057.6 L1240.2 1051.0 L1236.9 1044.4 L1233.6 1037.9 L1230.3 1031.5 L1227.0 1025.1 L1223.7 1018.7 L1220.4 1012.5 L1217.2 1006.2 L1213.9 1000.1 L1210.6 994.0 L1207.3 987.9 L1204.0 981.9 L1200.7 976.0 L1197.4 970.1 L1194.1 964.3 L1190.8 958.6 L1187.5 952.9 L1184.2 947.3 L1180.9 941.7 L1177.6 936.2 L1174.3 930.8 L1171.0 925.4 L1167.7 920.1 L1164.4 914.9 L1161.1 909.7 L1157.8 904.6 L1154.5 899.5 L1151.2 894.6 L1147.9 889.7 L1144.6 884.8 L1141.3 880.1 L1138.0 875.4 L1134.6 870.7 L1131.3 866.2 L1128.0 861.7 L1124.7 857.3 L1121.4 852.9 L1118.1 848.7 L1114.8 844.5 L1111.5 840.3 L1108.1 836.3 L1104.8 832.3 L1101.5 828.4 L1098.2 824.6 L1094.8 820.9 L1091.5 817.2 L1088.2 813.6 L1084.8 810.1 L1081.5 806.7 L1078.2 803.4 L1074.8 800.1 L1071.5 796.9 L1068.2 793.8 L1064.8 790.8 L1061.5 787.9 L1058.1 785.0 L1054.7 782.3 L1051.4 779.6 L1048.0 777.0 L1044.7 774.5 L1041.3 772.1 L1037.9 769.7 L1034.5 767.5 L1031.1 765.3 L1027.8 763.3 L1024.4 761.3 L1021.0 759.4 L1017.6 757.6 L1014.2 755.9 L1010.8 754.3 L1007.4 752.8 L1003.9 751.4 L1000.5 750.0 L997.1 748.8 L993.7 747.7 L990.2 746.7 L986.8 745.7 L983.3 744.9 L979.9 744.2 L976.4 743.5 L973.0 743.0 L969.5 742.6 L966.1 742.2 L962.6 742.0 L959.2 741.9 L955.7 741.9 L952.3 741.9 L948.8 742.1 L945.3 742.4 L941.9 742.8 L938.4 743.3 L935.0 743.9 L931.5 744.6 L928.1 745.4 L924.6 746.3 L921.2 747.3 L917.7 748.4 L914.3 749.7 L910.8 751.0 L907.4 752.4 L904.0 754.0 L900.6 755.6 L897.2 757.4 L893.7 759.2 L890.3 761.2 L886.9 763.3 L883.5 765.4 L880.1 767.7 L876.8 770.1 L873.4 772.5 L870.0 775.1 L866.6 777.8 L863.3 780.6 L859.9 783.4 L856.5 786.4 L853.2 789.5 L849.8 792.7 L846.5 795.9 L843.1 799.3 L839.8 802.8 L836.4 806.3 L833.1 810.0 L829.8 813.8 L826.4 817.6 L823.1 821.6 L819.8 825.6 L816.4 829.8 L813.1 834.0 L809.8 838.3 L806.5 842.7 L803.1 847.2 L799.8 851.8 L796.5 856.5 L793.2 861.3 L789.9 866.1 L786.6 871.1 L783.3 876.1 L780.0 881.2 L776.7 886.4 L773.3 891.7 L770.0 897.1 L766.7 902.5 L763.4 908.0 L760.1 913.6 L756.8 919.3 L753.5 925.0 L750.2 930.8 L746.9 936.7 L743.6 942.6 L740.3 948.6 L737.0 954.7 L733.8 960.8 L730.5 967.0 L727.2 973.3 L723.9 979.6 L720.6 986.0 L717.3 992.4 L714.0 998.9 L710.7 1005.4 L707.4 1011.9 L704.1 1018.5 L700.8 1025.2 L697.6 1031.9 L694.3 1038.6 L691.0 1045.3 L687.7 1052.1 L684.4 1058.9 L681.1 1065.7 L677.8 1072.6 L674.5 1079.4 L671.3 1086.3 L668.0 1093.2 L664.7 1100.1 L661.4 1107.0 L658.1 1113.9 L654.8 1120.8 L651.6 1127.7 L648.3 1134.6 L645.0 1141.5 L641.7 1148.4 L638.4 1155.2 L635.2 1162.1 L631.9 1168.9 L628.6 1175.6 L625.3 1182.4 L622.1 1189.1 L618.8 1195.8 L615.5 1202.4 L612.2 1209.0 L609.0 1215.5 L605.7 1222.0 L602.4 1228.4 L599.2 1234.8 L595.9 1241.1 L592.6 1247.3 L589.3 1253.4 L586.1 1259.5 L582.8 1265.5 L579.6 1271.4 L576.3 1277.2 L573.0 1283.0 L569.8 1288.6 L566.5 1294.2 L563.3 1299.6 L560.0 1304.9 L556.7 1310.2 L553.5 1315.3 L550.3 1320.3 L547.0 1325.2 L543.8 1330.0 L540.5 1334.6 L537.3 1339.2 L534.1 1343.6 L530.8 1347.9 L527.6 1352.1 L524.4 1356.1 L521.2 1360.0 L517.9 1363.8 L514.7 1367.4 L511.5 1370.9 L508.3 1374.3 L505.1 1377.5 L501.9 1380.6 L498.8 1383.6 L495.6 1386.4 L492.4 1389.1 L489.2 1391.7 L486.1 1394.2 L482.9 1396.5 L479.8 1398.7 L476.6 1400.8 L473.5 1402.7 L470.3 1404.6 L467.2 1406.3 L464.1 1407.9 L460.9 1409.4 L457.8 1410.8 L454.7 1412.1 L451.6 1413.3 L448.4 1414.5 L445.3 1415.5 L442.1 1416.4 L439.0 1417.3 L435.8 1418.1 L432.7 1418.8 L429.5 1419.4 L426.4 1420.0 L423.2 1420.5 L420.0 1421.0 L416.8 1421.4 L413.6 1421.7 L410.4 1422.0 L407.2 1422.3 L404.0 1422.6 L400.8 1422.8 L397.5 1422.9 L394.3 1423.1 L391.1 1423.2 L387.8 1423.3 L384.6 1423.4 L381.3 1423.4 L378.0 1423.5 L374.8 1423.5 L371.5 1423.6 L368.2 1423.6 L365.0 1423.6 L361.7 1423.6 L358.4 1423.6 L355.1 1423.6 L351.9 1423.6 L348.6 1423.6 L345.3 1423.6 L342.0 1423.6 L338.7 1423.6 L335.5 1423.6 L332.2 1423.6 L328.9 1423.6 L325.6 1423.6 L322.3 1423.6 L319.0 1423.6 L315.8 1423.6 L312.5 1423.6 L309.2 1423.6 L305.9 1423.6 L302.6 1423.6 L299.4 1423.6 L296.1 1423.6 L292.8 1423.6 L289.5 1423.6 L286.2 1423.6 L282.9 1423.6 L279.7 1423.7 L276.4 1423.7 L273.1 1423.7 L269.8 1423.7 L266.5 1423.7 L263.3 1423.7 L260.0 1423.7 L256.7 1423.7 L253.4 1423.7 L250.1 1423.7 L246.8 1423.7 L243.6 1423.7 L240.3 1423.7 L237.0 1423.7Z"/>
<path fill="#00bfbf" d="M237.0 1435.3 L240.3 1435.3 L243.6 1435.3 L246.8 1435.3 L250.1 1435.3 L253.4 1435.3 L256.7 1435.3 L260.0 1435.3 L263.3 1435.3 L266.5 1435.3 L269.8 1435.3 L273.1 1435.3 L276.4 1435.3 L279.7 1435.4 L282.9 1435.3 L286.2 1435.3 L289.5 1435.3 L292.8 1435.3 L296.1 1435.3 L299.4 1435.3 L302.6 1435.3 L305.9 1435.3 L309.2 1435.3 L312.5 1435.3 L315.8 1435.3 L319.1 1435.3 L322.3 1435.3 L325.6 1435.3 L328.9 1435.3 L332.2 1435.3 L335.5 1435.3 L338.7 1435.3 L342.0 1435.3 L345.3 1435.3 L348.6 1435.3 L351.9 1435.3 L355.2 1435.3 L358.5 1435.3 L361.8 1435.3 L365.1 1435.3 L368.4 1435.2 L371.7 1435.2 L375.0 1435.1 L378.3 1435.1 L381.6 1435.0 L384.9 1434.9 L388.2 1434.7 L391.6 1434.6 L394.9 1434.4 L398.3 1434.1 L401.6 1433.9 L405.0 1433.6 L408.3 1433.2 L411.7 1432.8 L415.1 1432.3 L418.5 1431.8 L421.9 1431.2 L425.3 1430.5 L428.7 1429.8 L432.1 1429.0 L435.5 1428.1 L439.0 1427.1 L442.4 1426.0 L445.8 1424.8 L449.2 1423.5 L452.7 1422.1 L456.1 1420.6 L459.5 1418.9 L463.0 1417.2 L466.4 1415.4 L469.8 1413.4 L473.2 1411.3 L476.6 1409.1 L480.0 1406.8 L483.5 1404.3 L486.8 1401.8 L490.2 1399.1 L493.6 1396.3 L497.0 1393.3 L500.4 1390.3 L503.8 1387.1 L507.1 1383.8 L510.5 1380.4 L513.8 1376.9 L517.2 1373.2 L520.5 1369.4 L523.9 1365.6 L527.2 1361.6 L530.6 1357.5 L533.9 1353.3 L537.2 1348.9 L540.5 1344.5 L543.9 1340.0 L547.2 1335.4 L550.5 1330.7 L553.8 1325.9 L557.1 1321.0 L560.4 1316.0 L563.8 1311.0 L567.1 1305.9 L570.4 1300.6 L573.7 1295.4 L577.0 1290.0 L580.3 1284.6 L583.6 1279.1 L586.9 1273.6 L590.2 1268.0 L593.5 1262.4 L596.7 1256.7 L600.0 1251.0 L603.3 1245.2 L606.6 1239.4 L609.9 1233.5 L613.2 1227.7 L616.5 1221.8 L619.8 1215.9 L623.1 1209.9 L626.3 1204.0 L629.6 1198.0 L632.9 1192.1 L636.2 1186.1 L639.5 1180.1 L642.8 1174.1 L646.0 1168.2 L649.3 1162.2 L652.6 1156.3 L655.9 1150.3 L659.2 1144.4 L662.4 1138.5 L665.7 1132.6 L669.0 1126.8 L672.3 1121.0 L675.5 1115.2 L678.8 1109.4 L682.1 1103.7 L685.4 1098.1 L688.6 1092.4 L691.9 1086.8 L695.2 1081.3 L698.4 1075.8 L701.7 1070.3 L705.0 1065.0 L708.2 1059.6 L711.5 1054.4 L714.8 1049.1 L718.0 1044.0 L721.3 1038.9 L724.6 1033.9 L727.8 1028.9 L731.1 1024.0 L734.3 1019.2 L737.6 1014.4 L740.9 1009.8 L744.1 1005.2 L747.4 1000.6 L750.6 996.2 L753.9 991.8 L757.1 987.5 L760.4 983.3 L763.6 979.2 L766.8 975.2 L770.1 971.2 L773.3 967.3 L776.6 963.5 L779.8 959.8 L783.0 956.2 L786.3 952.7 L789.5 949.3 L792.7 945.9 L795.9 942.7 L799.2 939.5 L802.4 936.4 L805.6 933.4 L808.8 930.6 L812.0 927.8 L815.2 925.1 L818.4 922.5 L821.6 919.9 L824.8 917.5 L828.0 915.2 L831.2 913.0 L834.3 910.8 L837.5 908.8 L840.7 906.8 L843.9 905.0 L847.0 903.2 L850.2 901.5 L853.3 899.9 L856.5 898.5 L859.6 897.1 L862.8 895.8 L865.9 894.6 L869.1 893.4 L872.2 892.4 L875.3 891.5 L878.4 890.6 L881.6 889.9 L884.7 889.2 L887.8 888.7 L890.9 888.2 L894.0 887.8 L897.2 887.5 L900.3 887.3 L903.4 887.1 L906.5 887.1 L909.6 887.1 L912.7 887.3 L915.9 887.5 L919.0 887.8 L922.1 888.3 L925.2 888.7 L928.4 889.3 L931.5 890.0 L934.6 890.7 L937.8 891.6 L940.9 892.5 L944.0 893.5 L947.2 894.6 L950.3 895.8 L953.5 897.0 L956.7 898.4 L959.8 899.8 L963.0 901.3 L966.2 902.9 L969.3 904.6 L972.5 906.3 L975.7 908.2 L978.9 910.1 L982.1 912.1 L985.3 914.2 L988.5 916.3 L991.6 918.6 L994.9 920.9 L998.1 923.3 L1001.3 925.8 L1004.5 928.3 L1007.7 931.0 L1010.9 933.7 L1014.1 936.5 L1017.4 939.3 L1020.6 942.3 L1023.8 945.3 L1027.0 948.4 L1030.3 951.5 L1033.5 954.8 L1036.7 958.1 L1040.0 961.5 L1043.2 964.9 L1046.4 968.5 L1049.7 972.1 L1052.9 975.7 L1056.2 979.5 L1059.4 983.3 L1062.7 987.1 L1065.9 991.1 L1069.2 995.1 L1072.4 999.2 L1075.7 1003.3 L1078.9 1007.5 L1082.2 1011.8 L1085.4 1016.1 L1088.7 1020.5 L1092.0 1025.0 L1095.2 1029.5 L1098.5 1034.1 L1101.7 1038.7 L1105.0 1043.4 L1108.3 1048.2 L1111.5 1053.0 L1114.8 1057.9 L1118.0 1062.8 L1121.3 1067.8 L1124.6 1072.9 L1127.8 1078.0 L1131.1 1083.1 L1134.4 1088.4 L1137.6 1093.6 L1140.9 1099.0 L1144.2 1104.4 L1147.4 1109.8 L1150.7 1115.3 L1154.0 1120.8 L1157.2 1126.4 L1160.5 1132.1 L1163.8 1137.7 L1167.1 1143.5 L1170.3 1149.3 L1173.6 1155.1 L1176.9 1161.0 L1180.1 1167.0 L1183.4 1172.9 L1186.7 1179.0 L1190.0 1185.0 L1193.2 1191.2 L1196.5 1197.3 L1199.8 1203.5 L1203.0 1209.8 L1206.3 1216.1 L1209.6 1222.4 L1212.9 1228.8 L1216.1 1235.3 L1219.4 1241.7 L1222.7 1248.2 L1226.0 1254.8 L1229.2 1261.4 L1232.5 1268.0 L1235.8 1274.7 L1239.1 1281.4 L1242.3 1288.1 L1245.6 1294.9 L1248.9 1301.7 L1252.2 1308.6 L1255.5 1315.5 L1258.7 1322.4 L1262.0 1329.4 L1265.3 1336.4 L1268.6 1343.4 L1271.8 1350.5 L1275.1 1357.6 L1278.4 1364.7 L1281.7 1371.9 L1284.9 1379.1 L1288.2 1386.3 L1291.5 1393.6 L1294.8 1400.9 L1298.1 1408.2 L1301.3 1415.6 L1304.6 1423.0 L1307.9 1430.4 L1311.2 1437.8 L1314.4 1445.3 L1317.7 1452.8 L1321.0 1460.4 L1332.2 1455.5 L1329.0 1447.9 L1325.7 1440.4 L1322.4 1432.9 L1319.1 1425.5 L1315.8 1418.0 L1312.5 1410.6 L1309.2 1403.2 L1306.0 1395.9 L1302.7 1388.6 L1299.4 1381.3 L1296.1 1374.0 L1292.8 1366.8 L1289.5 1359.6 L1286.2 1352.5 L1283.0 1345.3 L1279.7 1338.3 L1276.4 1331.2 L1273.1 1324.2 L1269.8 1317.2 L1266.5 1310.2 L1263.2 1303.3 L1259.9 1296.4 L1256.7 1289.6 L1253.4 1282.8 L1250.1 1276.0 L1246.8 1269.3 L1243.5 1262.6 L1240.2 1255.9 L1236.9 1249.3 L1233.6 1242.7 L1230.3 1236.2 L1227.1 1229.7 L1223.8 1223.3 L1220.5 1216.8 L1217.2 1210.5 L1213.9 1204.1 L1210.6 1197.9 L1207.3 1191.6 L1204.0 1185.4 L1200.7 1179.3 L1197.4 1173.2 L1194.1 1167.1 L1190.9 1161.1 L1187.6 1155.1 L1184.3 1149.2 L1181.0 1143.3 L1177.7 1137.5 L1174.4 1131.7 L1171.1 1125.9 L1167.8 1120.3 L1164.5 1114.6 L1161.2 1109.0 L1157.9 1103.5 L1154.6 1098.0 L1151.3 1092.6 L1148.0 1087.2 L1144.7 1081.9 L1141.4 1076.6 L1138.1 1071.4 L1134.8 1066.3 L1131.5 1061.2 L1128.2 1056.1 L1124.9 1051.1 L1121.6 1046.2 L1118.3 1041.3 L1115.0 1036.5 L1111.7 1031.7 L1108.4 1027.0 L1105.1 1022.4 L1101.8 1017.8 L1098.5 1013.3 L1095.2 1008.8 L1091.9 1004.4 L1088.6 1000.1 L1085.3 995.8 L1082.0 991.6 L1078.6 987.4 L1075.3 983.4 L1072.0 979.4 L1068.7 975.4 L1065.4 971.5 L1062.1 967.7 L1058.7 964.0 L1055.4 960.3 L1052.1 956.7 L1048.8 953.1 L1045.4 949.7 L1042.1 946.3 L1038.8 942.9 L1035.5 939.7 L1032.1 936.5 L1028.8 933.4 L1025.4 930.3 L1022.1 927.4 L1018.8 924.5 L1015.4 921.7 L1012.1 918.9 L1008.7 916.3 L1005.4 913.7 L1002.0 911.2 L998.6 908.7 L995.3 906.4 L991.9 904.1 L988.5 901.9 L985.2 899.8 L981.8 897.8 L978.4 895.9 L975.0 894.0 L971.6 892.2 L968.2 890.5 L964.8 888.9 L961.4 887.4 L958.0 886.0 L954.6 884.6 L951.2 883.4 L947.8 882.2 L944.4 881.1 L940.9 880.1 L937.5 879.3 L934.1 878.4 L930.6 877.7 L927.2 877.1 L923.8 876.6 L920.3 876.2 L916.9 875.8 L913.4 875.6 L910.0 875.4 L906.5 875.4 L903.1 875.4 L899.7 875.5 L896.2 875.8 L892.8 876.1 L889.3 876.5 L885.9 877.0 L882.4 877.6 L879.0 878.4 L875.5 879.2 L872.1 880.1 L868.7 881.1 L865.2 882.2 L861.8 883.4 L858.4 884.7 L855.0 886.1 L851.5 887.6 L848.1 889.2 L844.7 890.9 L841.3 892.7 L837.9 894.5 L834.5 896.5 L831.1 898.6 L827.7 900.8 L824.4 903.0 L821.0 905.4 L817.6 907.8 L814.2 910.4 L810.9 913.0 L807.5 915.8 L804.1 918.6 L800.8 921.5 L797.4 924.5 L794.1 927.6 L790.7 930.8 L787.4 934.1 L784.0 937.4 L780.7 940.9 L777.4 944.4 L774.0 948.1 L770.7 951.8 L767.4 955.6 L764.0 959.5 L760.7 963.4 L757.4 967.5 L754.1 971.6 L750.8 975.8 L747.4 980.1 L744.1 984.5 L740.8 989.0 L737.5 993.5 L734.2 998.1 L730.9 1002.8 L727.6 1007.5 L724.3 1012.3 L721.0 1017.2 L717.6 1022.2 L714.3 1027.2 L711.0 1032.3 L707.7 1037.4 L704.4 1042.6 L701.1 1047.9 L697.8 1053.2 L694.5 1058.6 L691.3 1064.0 L688.0 1069.5 L684.7 1075.1 L681.4 1080.6 L678.1 1086.3 L674.8 1091.9 L671.5 1097.6 L668.2 1103.4 L664.9 1109.2 L661.6 1115.0 L658.3 1120.8 L655.0 1126.7 L651.8 1132.6 L648.5 1138.5 L645.2 1144.4 L641.9 1150.4 L638.6 1156.3 L635.3 1162.3 L632.0 1168.3 L628.8 1174.2 L625.5 1180.2 L622.2 1186.2 L618.9 1192.1 L615.6 1198.1 L612.4 1204.0 L609.1 1209.9 L605.8 1215.8 L602.5 1221.7 L599.3 1227.6 L596.0 1233.4 L592.7 1239.2 L589.4 1244.9 L586.2 1250.6 L582.9 1256.2 L579.6 1261.8 L576.4 1267.4 L573.1 1272.9 L569.8 1278.3 L566.6 1283.6 L563.3 1288.9 L560.0 1294.1 L556.8 1299.3 L553.5 1304.3 L550.3 1309.3 L547.0 1314.2 L543.8 1319.0 L540.5 1323.7 L537.3 1328.3 L534.0 1332.8 L530.8 1337.3 L527.5 1341.6 L524.3 1345.8 L521.1 1349.9 L517.8 1353.8 L514.6 1357.7 L511.4 1361.4 L508.2 1365.1 L505.0 1368.6 L501.8 1372.0 L498.6 1375.2 L495.4 1378.4 L492.2 1381.4 L489.0 1384.3 L485.8 1387.1 L482.6 1389.7 L479.5 1392.2 L476.3 1394.7 L473.1 1396.9 L470.0 1399.1 L466.8 1401.1 L463.7 1403.1 L460.5 1404.9 L457.4 1406.6 L454.3 1408.2 L451.1 1409.7 L448.0 1411.1 L444.9 1412.4 L441.7 1413.6 L438.6 1414.7 L435.5 1415.7 L432.3 1416.6 L429.2 1417.5 L426.0 1418.3 L422.9 1419.0 L419.7 1419.6 L416.5 1420.2 L413.4 1420.7 L410.2 1421.1 L407.0 1421.5 L403.8 1421.9 L400.6 1422.2 L397.4 1422.4 L394.2 1422.7 L390.9 1422.8 L387.7 1423.0 L384.5 1423.1 L381.2 1423.2 L378.0 1423.3 L374.7 1423.4 L371.5 1423.5 L368.2 1423.5 L364.9 1423.6 L361.7 1423.6 L358.4 1423.6 L355.1 1423.6 L351.9 1423.6 L348.6 1423.6 L345.3 1423.6 L342.0 1423.6 L338.7 1423.6 L335.5 1423.6 L332.2 1423.6 L328.9 1423.6 L325.6 1423.6 L322.3 1423.6 L319.0 1423.6 L315.8 1423.6 L312.5 1423.6 L309.2 1423.6 L305.9 1423.6 L302.6 1423.6 L299.4 1423.6 L296.1 1423.6 L292.8 1423.6 L289.5 1423.6 L286.2 1423.6 L282.9 1423.6 L279.7 1423.6 L276.4 1423.7 L273.1 1423.7 L269.8 1423.7 L266.5 1423.7 L263.3 1423.7 L260.0 1423.7 L256.7 1423.7 L253.4 1423.7 L250.1 1423.7 L246.8 1423.7 L243.6 1423.7 L240.3 1423.7 L237.0 1423.7Z"/>
<path fill="#de00c0" d="M237.0 1435.3 L240.3 1435.3 L243.6 1435.3 L246.8 1435.3 L250.1 1435.3 L253.4 1435.3 L256.7 1435.3 L260.0 1435.3 L263.3 1435.3 L266.5 1435.3 L269.8 1435.3 L273.1 1435.3 L276.4 1435.4 L279.7 1435.3 L282.9 1435.3 L286.2 1435.3 L289.5 1435.3 L292.8 1435.3 L296.1 1435.3 L299.4 1435.3 L302.6 1435.3 L305.9 1435.3 L309.2 1435.3 L312.5 1435.3 L315.8 1435.3 L319.1 1435.3 L322.3 1435.3 L325.6 1435.3 L328.9 1435.3 L332.2 1435.3 L335.5 1435.3 L338.7 1435.3 L342.0 1435.3 L345.3 1435.3 L348.6 1435.3 L351.9 1435.3 L355.2 1435.3 L358.5 1435.3 L361.8 1435.2 L365.1 1435.2 L368.4 1435.1 L371.7 1435.1 L375.0 1435.0 L378.3 1434.9 L381.7 1434.8 L385.0 1434.6 L388.3 1434.4 L391.7 1434.2 L395.0 1434.0 L398.4 1433.7 L401.8 1433.3 L405.1 1432.9 L408.5 1432.4 L411.9 1431.9 L415.3 1431.3 L418.7 1430.7 L422.1 1429.9 L425.5 1429.1 L429.0 1428.2 L432.4 1427.2 L435.8 1426.1 L439.2 1424.9 L442.7 1423.7 L446.1 1422.3 L449.5 1420.8 L452.9 1419.2 L456.4 1417.5 L459.8 1415.6 L463.2 1413.7 L466.6 1411.6 L470.0 1409.5 L473.4 1407.2 L476.8 1404.8 L480.2 1402.2 L483.6 1399.6 L487.0 1396.8 L490.4 1394.0 L493.8 1391.0 L497.1 1387.9 L500.5 1384.7 L503.9 1381.4 L507.2 1377.9 L510.6 1374.4 L513.9 1370.7 L517.3 1367.0 L520.6 1363.2 L523.9 1359.2 L527.3 1355.2 L530.6 1351.0 L533.9 1346.8 L537.2 1342.5 L540.5 1338.1 L543.9 1333.6 L547.2 1329.1 L550.5 1324.4 L553.8 1319.7 L557.1 1315.0 L560.4 1310.1 L563.7 1305.2 L567.0 1300.3 L570.3 1295.3 L573.6 1290.2 L576.9 1285.1 L580.2 1279.9 L583.5 1274.8 L586.8 1269.5 L590.1 1264.3 L593.4 1259.0 L596.7 1253.7 L599.9 1248.3 L603.2 1243.0 L606.5 1237.6 L609.8 1232.2 L613.1 1226.8 L616.4 1221.5 L619.6 1216.1 L622.9 1210.7 L626.2 1205.3 L629.5 1199.9 L632.8 1194.5 L636.0 1189.2 L639.3 1183.9 L642.6 1178.6 L645.9 1173.3 L649.1 1168.0 L652.4 1162.8 L655.7 1157.6 L659.0 1152.4 L662.2 1147.3 L665.5 1142.2 L668.8 1137.1 L672.0 1132.1 L675.3 1127.2 L678.6 1122.3 L681.8 1117.4 L685.1 1112.6 L688.4 1107.8 L691.6 1103.1 L694.9 1098.5 L698.1 1093.9 L701.4 1089.4 L704.7 1085.0 L707.9 1080.6 L711.2 1076.3 L714.4 1072.0 L717.7 1067.9 L720.9 1063.8 L724.2 1059.7 L727.4 1055.8 L730.7 1051.9 L733.9 1048.1 L737.1 1044.4 L740.4 1040.7 L743.6 1037.2 L746.9 1033.7 L750.1 1030.3 L753.3 1027.0 L756.5 1023.7 L759.8 1020.6 L763.0 1017.5 L766.2 1014.5 L769.4 1011.6 L772.6 1008.8 L775.8 1006.1 L779.0 1003.5 L782.2 1000.9 L785.4 998.4 L788.6 996.1 L791.8 993.8 L795.0 991.6 L798.2 989.5 L801.4 987.5 L804.6 985.6 L807.7 983.7 L810.9 982.0 L814.1 980.3 L817.2 978.7 L820.4 977.2 L823.5 975.9 L826.7 974.5 L829.8 973.3 L833.0 972.2 L836.1 971.1 L839.3 970.2 L842.4 969.3 L845.5 968.5 L848.7 967.8 L851.8 967.2 L854.9 966.7 L858.0 966.2 L861.2 965.9 L864.3 965.6 L867.4 965.4 L870.5 965.3 L873.7 965.3 L876.8 965.4 L879.9 965.5 L883.0 965.8 L886.2 966.1 L889.3 966.5 L892.4 967.0 L895.6 967.5 L898.7 968.2 L901.9 968.9 L905.0 969.7 L908.1 970.6 L911.3 971.6 L914.4 972.6 L917.6 973.8 L920.8 975.0 L923.9 976.3 L927.1 977.6 L930.3 979.1 L933.4 980.6 L936.6 982.2 L939.8 983.9 L943.0 985.6 L946.2 987.5 L949.4 989.4 L952.5 991.4 L955.7 993.4 L958.9 995.6 L962.1 997.8 L965.4 1000.1 L968.6 1002.4 L971.8 1004.9 L975.0 1007.4 L978.2 1009.9 L981.4 1012.6 L984.7 1015.3 L987.9 1018.1 L991.1 1021.0 L994.3 1023.9 L997.6 1026.9 L1000.8 1030.0 L1004.0 1033.1 L1007.3 1036.3 L1010.5 1039.6 L1013.7 1042.9 L1017.0 1046.3 L1020.2 1049.8 L1023.5 1053.3 L1026.7 1056.9 L1030.0 1060.6 L1033.2 1064.3 L1036.5 1068.1 L1039.7 1071.9 L1043.0 1075.8 L1046.2 1079.8 L1049.5 1083.8 L1052.7 1087.9 L1056.0 1092.0 L1059.2 1096.2 L1062.5 1100.5 L1065.8 1104.8 L1069.0 1109.2 L1072.3 1113.6 L1075.5 1118.1 L1078.8 1122.6 L1082.1 1127.2 L1085.3 1131.8 L1088.6 1136.5 L1091.9 1141.3 L1095.1 1146.1 L1098.4 1150.9 L1101.6 1155.8 L1104.9 1160.8 L1108.2 1165.8 L1111.4 1170.8 L1114.7 1175.9 L1118.0 1181.1 L1121.3 1186.2 L1124.5 1191.5 L1127.8 1196.8 L1131.1 1202.1 L1134.3 1207.5 L1137.6 1212.9 L1140.9 1218.4 L1144.1 1223.9 L1147.4 1229.4 L1150.7 1235.0 L1154.0 1240.6 L1157.2 1246.3 L1160.5 1252.0 L1163.8 1257.8 L1167.0 1263.6 L1170.3 1269.4 L1173.6 1275.3 L1176.9 1281.2 L1180.1 1287.2 L1183.4 1293.1 L1186.7 1299.2 L1190.0 1305.2 L1193.2 1311.3 L1196.5 1317.5 L1199.8 1323.6 L1203.1 1329.8 L1206.3 1336.1 L1209.6 1342.4 L1212.9 1348.7 L1216.2 1355.0 L1219.4 1361.4 L1222.7 1367.8 L1226.0 1374.2 L1229.3 1380.7 L1232.5 1387.2 L1235.8 1393.7 L1239.1 1400.3 L1242.4 1406.9 L1245.7 1413.5 L1248.9 1420.1 L1252.2 1426.8 L1255.5 1433.5 L1258.8 1440.3 L1262.0 1447.0 L1265.3 1453.8 L1268.6 1460.6 L1279.6 1455.3 L1276.3 1448.5 L1273.1 1441.7 L1269.8 1434.9 L1266.5 1428.2 L1263.2 1421.4 L1259.9 1414.7 L1256.6 1408.1 L1253.3 1401.4 L1250.0 1394.8 L1246.8 1388.2 L1243.5 1381.7 L1240.2 1375.2 L1236.9 1368.7 L1233.6 1362.2 L1230.3 1355.8 L1227.0 1349.4 L1223.7 1343.0 L1220.5 1336.7 L1217.2 1330.4 L1213.9 1324.2 L1210.6 1317.9 L1207.3 1311.7 L1204.0 1305.6 L1200.7 1299.4 L1197.4 1293.3 L1194.1 1287.3 L1190.9 1281.3 L1187.6 1275.3 L1184.3 1269.4 L1181.0 1263.5 L1177.7 1257.6 L1174.4 1251.8 L1171.1 1246.0 L1167.8 1240.2 L1164.5 1234.5 L1161.2 1228.8 L1157.9 1223.2 L1154.7 1217.6 L1151.4 1212.1 L1148.1 1206.6 L1144.8 1201.1 L1141.5 1195.7 L1138.2 1190.4 L1134.9 1185.0 L1131.6 1179.8 L1128.3 1174.5 L1125.0 1169.3 L1121.7 1164.2 L1118.4 1159.1 L1115.1 1154.1 L1111.8 1149.1 L1108.5 1144.1 L1105.2 1139.2 L1101.9 1134.4 L1098.6 1129.6 L1095.3 1124.8 L1092.0 1120.2 L1088.7 1115.5 L1085.4 1110.9 L1082.1 1106.4 L1078.8 1101.9 L1075.5 1097.5 L1072.2 1093.1 L1068.9 1088.8 L1065.6 1084.5 L1062.3 1080.3 L1059.0 1076.2 L1055.7 1072.1 L1052.3 1068.1 L1049.0 1064.1 L1045.7 1060.2 L1042.4 1056.3 L1039.1 1052.5 L1035.8 1048.8 L1032.4 1045.1 L1029.1 1041.5 L1025.8 1038.0 L1022.5 1034.5 L1019.2 1031.1 L1015.8 1027.7 L1012.5 1024.4 L1009.2 1021.2 L1005.8 1018.1 L1002.5 1015.0 L999.2 1012.0 L995.8 1009.0 L992.5 1006.1 L989.2 1003.3 L985.8 1000.6 L982.5 997.9 L979.1 995.3 L975.8 992.8 L972.4 990.3 L969.1 987.9 L965.7 985.6 L962.3 983.4 L959.0 981.2 L955.6 979.1 L952.2 977.1 L948.8 975.2 L945.5 973.3 L942.1 971.6 L938.7 969.9 L935.3 968.2 L931.9 966.7 L928.5 965.2 L925.1 963.9 L921.7 962.6 L918.3 961.4 L914.9 960.3 L911.5 959.2 L908.1 958.3 L904.6 957.4 L901.2 956.6 L897.8 955.9 L894.4 955.3 L890.9 954.8 L887.5 954.4 L884.1 954.0 L880.6 953.8 L877.2 953.6 L873.8 953.6 L870.3 953.6 L866.9 953.7 L863.4 953.9 L860.0 954.2 L856.6 954.6 L853.1 955.0 L849.7 955.6 L846.3 956.3 L842.8 957.0 L839.4 957.9 L836.0 958.8 L832.5 959.8 L829.1 960.9 L825.7 962.2 L822.3 963.5 L818.9 964.9 L815.4 966.4 L812.0 968.0 L808.6 969.6 L805.2 971.4 L801.8 973.3 L798.4 975.2 L795.1 977.3 L791.7 979.4 L788.3 981.6 L784.9 983.9 L781.6 986.3 L778.2 988.8 L774.8 991.4 L771.5 994.1 L768.1 996.8 L764.7 999.6 L761.4 1002.6 L758.0 1005.6 L754.7 1008.7 L751.4 1011.8 L748.0 1015.1 L744.7 1018.4 L741.3 1021.9 L738.0 1025.4 L734.7 1028.9 L731.3 1032.6 L728.0 1036.3 L724.7 1040.2 L721.4 1044.1 L718.1 1048.0 L714.7 1052.1 L711.4 1056.2 L708.1 1060.3 L704.8 1064.6 L701.5 1068.9 L698.2 1073.3 L694.9 1077.7 L691.6 1082.3 L688.2 1086.8 L684.9 1091.5 L681.6 1096.2 L678.3 1100.9 L675.0 1105.7 L671.7 1110.6 L668.4 1115.5 L665.1 1120.4 L661.8 1125.4 L658.5 1130.5 L655.3 1135.6 L652.0 1140.7 L648.7 1145.9 L645.4 1151.1 L642.1 1156.3 L638.8 1161.5 L635.5 1166.8 L632.2 1172.1 L628.9 1177.5 L625.6 1182.8 L622.3 1188.2 L619.1 1193.6 L615.8 1198.9 L612.5 1204.3 L609.2 1209.7 L605.9 1215.1 L602.7 1220.5 L599.4 1225.9 L596.1 1231.2 L592.8 1236.6 L589.5 1241.9 L586.3 1247.3 L583.0 1252.5 L579.7 1257.8 L576.4 1263.0 L573.2 1268.2 L569.9 1273.4 L566.6 1278.5 L563.4 1283.6 L560.1 1288.6 L556.8 1293.5 L553.6 1298.4 L550.3 1303.3 L547.0 1308.0 L543.8 1312.7 L540.5 1317.4 L537.3 1321.9 L534.0 1326.4 L530.8 1330.8 L527.5 1335.1 L524.3 1339.3 L521.1 1343.5 L517.8 1347.5 L514.6 1351.4 L511.4 1355.3 L508.1 1359.0 L504.9 1362.6 L501.7 1366.1 L498.5 1369.5 L495.3 1372.8 L492.1 1376.0 L488.9 1379.1 L485.7 1382.0 L482.5 1384.8 L479.3 1387.6 L476.1 1390.2 L472.9 1392.6 L469.8 1395.0 L466.6 1397.3 L463.4 1399.4 L460.3 1401.4 L457.1 1403.3 L454.0 1405.1 L450.9 1406.8 L447.7 1408.4 L444.6 1409.9 L441.4 1411.3 L438.3 1412.6 L435.2 1413.7 L432.0 1414.8 L428.9 1415.9 L425.8 1416.8 L422.6 1417.6 L419.5 1418.4 L416.3 1419.1 L413.2 1419.7 L410.0 1420.3 L406.8 1420.8 L403.6 1421.2 L400.4 1421.6 L397.2 1421.9 L394.0 1422.2 L390.8 1422.5 L387.6 1422.7 L384.4 1422.9 L381.2 1423.1 L377.9 1423.2 L374.7 1423.3 L371.4 1423.4 L368.2 1423.4 L364.9 1423.5 L361.7 1423.5 L358.4 1423.6 L355.1 1423.6 L351.8 1423.6 L348.6 1423.6 L345.3 1423.6 L342.0 1423.6 L338.7 1423.6 L335.5 1423.6 L332.2 1423.6 L328.9 1423.6 L325.6 1423.6 L322.3 1423.6 L319.0 1423.6 L315.8 1423.6 L312.5 1423.6 L309.2 1423.6 L305.9 1423.6 L302.6 1423.6 L299.4 1423.6 L296.1 1423.6 L292.8 1423.6 L289.5 1423.6 L286.2 1423.6 L282.9 1423.6 L279.7 1423.6 L276.4 1423.6 L273.1 1423.7 L269.8 1423.7 L266.5 1423.7 L263.3 1423.7 L260.0 1423.7 L256.7 1423.7 L253.4 1423.7 L250.1 1423.7 L246.8 1423.7 L243.6 1423.7 L240.3 1423.7 L237.0 1423.7Z"/>
<path fill="#ff0080" d="M236.0 1435.4 L240.4 1435.3 L243.8 1435.3 L247.2 1435.3 L250.5 1435.3 L253.9 1435.3 L257.3 1435.3 L260.7 1435.3 L264.1 1435.3 L267.5 1435.3 L270.9 1435.3 L274.3 1435.3 L277.7 1435.2 L281.0 1435.2 L284.4 1435.2 L287.8 1435.1 L291.2 1435.1 L294.6 1435.0 L298.0 1435.0 L301.4 1434.9 L304.8 1434.8 L308.2 1434.7 L311.6 1434.6 L315.0 1434.5 L318.4 1434.4 L321.8 1434.3 L325.2 1434.2 L328.6 1434.0 L332.0 1433.9 L335.4 1433.7 L338.8 1433.5 L342.2 1433.4 L345.6 1433.2 L349.0 1432.9 L352.5 1432.7 L355.9 1432.5 L359.3 1432.2 L362.7 1432.0 L366.1 1431.7 L369.5 1431.4 L372.9 1431.1 L376.3 1430.7 L379.7 1430.4 L383.1 1430.0 L386.6 1429.6 L390.0 1429.2 L393.4 1428.8 L396.8 1428.4 L400.2 1427.9 L403.6 1427.5 L407.1 1427.0 L410.5 1426.4 L413.9 1425.9 L417.3 1425.3 L420.7 1424.8 L424.2 1424.2 L427.6 1423.5 L431.0 1422.9 L434.4 1422.2 L437.8 1421.5 L441.3 1420.8 L444.7 1420.1 L448.1 1419.3 L451.5 1418.5 L455.0 1417.7 L458.4 1416.8 L461.8 1416.0 L465.2 1415.1 L468.7 1414.1 L472.1 1413.2 L475.5 1412.2 L479.0 1411.2 L482.4 1410.2 L485.8 1409.1 L489.2 1408.0 L492.7 1406.9 L496.1 1405.7 L499.5 1404.5 L503.0 1403.3 L506.4 1402.0 L509.8 1400.8 L513.3 1399.4 L516.7 1398.1 L520.1 1396.7 L523.5 1395.3 L527.0 1393.8 L530.4 1392.3 L533.8 1390.8 L537.3 1389.3 L540.7 1387.7 L544.1 1386.0 L547.6 1384.4 L551.0 1382.7 L554.4 1380.9 L557.9 1379.2 L561.3 1377.3 L564.7 1375.5 L568.2 1373.6 L571.6 1371.6 L575.0 1369.7 L578.5 1367.7 L581.9 1365.6 L585.3 1363.5 L588.7 1361.4 L592.2 1359.2 L595.6 1357.0 L599.0 1354.7 L602.5 1352.4 L605.9 1350.0 L609.3 1347.7 L612.7 1345.2 L616.2 1342.7 L619.6 1340.2 L623.0 1337.6 L626.4 1335.0 L629.9 1332.3 L633.3 1329.6 L636.7 1326.9 L640.1 1324.1 L643.6 1321.2 L647.0 1318.3 L650.4 1315.4 L653.8 1312.4 L657.3 1309.3 L660.7 1306.2 L664.1 1303.1 L667.5 1299.9 L670.9 1296.6 L674.4 1293.3 L677.8 1290.0 L681.2 1286.6 L684.6 1283.1 L688.0 1279.6 L691.4 1276.1 L694.9 1272.4 L698.3 1268.8 L701.7 1265.0 L705.1 1261.3 L708.5 1257.4 L711.9 1253.5 L715.3 1249.6 L718.8 1245.6 L722.2 1241.5 L725.6 1237.4 L729.0 1233.3 L732.4 1229.0 L735.8 1224.8 L739.2 1220.4 L742.6 1216.0 L746.0 1211.5 L749.5 1207.0 L752.9 1202.4 L756.3 1197.8 L759.7 1193.1 L763.1 1188.3 L766.5 1183.5 L769.9 1178.6 L773.3 1173.6 L776.7 1168.6 L780.1 1163.6 L783.5 1158.4 L786.9 1153.2 L790.3 1147.9 L793.7 1142.6 L797.1 1137.2 L800.5 1131.7 L803.9 1126.2 L807.3 1120.6 L810.7 1114.9 L814.1 1109.2 L817.5 1103.4 L820.9 1097.5 L824.3 1091.6 L827.7 1085.6 L831.1 1079.5 L834.5 1073.4 L837.9 1067.1 L841.3 1060.9 L844.7 1054.5 L848.1 1048.1 L851.5 1041.6 L854.9 1035.0 L858.3 1028.3 L861.7 1021.6 L865.1 1014.8 L868.5 1008.0 L871.9 1001.0 L875.3 994.0 L878.7 986.9 L882.1 979.8 L885.5 972.5 L888.9 965.2 L892.3 957.8 L895.7 950.3 L899.1 942.8 L902.4 935.2 L905.8 927.5 L909.2 919.7 L912.6 911.8 L916.0 903.9 L919.4 895.9 L922.8 887.8 L926.2 879.6 L929.6 871.3 L933.0 863.0 L936.4 854.5 L939.8 846.0 L943.2 837.4 L946.6 828.8 L949.9 820.0 L953.3 811.2 L956.7 802.3 L960.1 793.2 L963.5 784.1 L966.9 775.0 L970.3 765.7 L973.7 756.4 L977.1 746.9 L980.5 737.4 L983.8 727.8 L987.2 718.1 L990.6 708.3 L994.0 698.4 L997.4 688.4 L1000.8 678.4 L1004.2 668.2 L1007.6 658.0 L1011.0 647.7 L1014.4 637.3 L1017.7 626.7 L1021.1 616.1 L1024.5 605.4 L1027.9 594.7 L1031.3 583.8 L1034.7 572.8 L1038.1 561.7 L1041.5 550.6 L1044.8 539.3 L1048.2 528.0 L1051.6 516.5 L1055.0 505.0 L1058.4 493.3 L1061.8 481.6 L1065.2 469.8 L1068.6 457.8 L1072.0 445.8 L1075.3 433.7 L1078.7 421.5 L1082.1 409.1 L1085.5 396.7 L1073.7 393.5 L1070.3 405.9 L1066.9 418.2 L1063.5 430.4 L1060.1 442.5 L1056.8 454.5 L1053.4 466.4 L1050.0 478.2 L1046.6 489.9 L1043.2 501.5 L1039.9 513.1 L1036.5 524.5 L1033.1 535.8 L1029.7 547.0 L1026.3 558.2 L1023.0 569.2 L1019.6 580.1 L1016.2 591.0 L1012.8 601.8 L1009.4 612.4 L1006.1 623.0 L1002.7 633.5 L999.3 643.9 L995.9 654.2 L992.5 664.4 L989.2 674.5 L985.8 684.5 L982.4 694.4 L979.0 704.3 L975.7 714.0 L972.3 723.7 L968.9 733.3 L965.5 742.8 L962.1 752.2 L958.8 761.5 L955.4 770.7 L952.0 779.9 L948.6 788.9 L945.3 797.9 L941.9 806.8 L938.5 815.6 L935.1 824.3 L931.8 833.0 L928.4 841.5 L925.0 850.0 L921.6 858.4 L918.2 866.7 L914.9 874.9 L911.5 883.0 L908.1 891.1 L904.7 899.1 L901.4 907.0 L898.0 914.8 L894.6 922.5 L891.2 930.2 L887.9 937.8 L884.5 945.3 L881.1 952.7 L877.8 960.1 L874.4 967.3 L871.0 974.5 L867.6 981.7 L864.3 988.7 L860.9 995.7 L857.5 1002.6 L854.1 1009.4 L850.8 1016.1 L847.4 1022.8 L844.0 1029.4 L840.7 1035.9 L837.3 1042.4 L833.9 1048.8 L830.6 1055.1 L827.2 1061.3 L823.8 1067.5 L820.4 1073.6 L817.1 1079.6 L813.7 1085.5 L810.3 1091.4 L807.0 1097.2 L803.6 1103.0 L800.2 1108.7 L796.9 1114.3 L793.5 1119.8 L790.1 1125.3 L786.8 1130.7 L783.4 1136.1 L780.0 1141.3 L776.7 1146.6 L773.3 1151.7 L770.0 1156.8 L766.6 1161.8 L763.2 1166.8 L759.9 1171.7 L756.5 1176.5 L753.1 1181.3 L749.8 1186.0 L746.4 1190.6 L743.1 1195.2 L739.7 1199.7 L736.3 1204.2 L733.0 1208.6 L729.6 1212.9 L726.3 1217.2 L722.9 1221.4 L719.6 1225.6 L716.2 1229.7 L712.8 1233.8 L709.5 1237.7 L706.1 1241.7 L702.8 1245.6 L699.4 1249.4 L696.1 1253.2 L692.7 1256.9 L689.4 1260.5 L686.0 1264.1 L682.7 1267.7 L679.3 1271.2 L676.0 1274.6 L672.6 1278.0 L669.3 1281.4 L665.9 1284.6 L662.6 1287.9 L659.2 1291.1 L655.9 1294.2 L652.5 1297.3 L649.2 1300.3 L645.8 1303.3 L642.5 1306.2 L639.1 1309.1 L635.8 1312.0 L632.4 1314.8 L629.1 1317.5 L625.8 1320.2 L622.4 1322.9 L619.1 1325.5 L615.7 1328.0 L612.4 1330.5 L609.0 1333.0 L605.7 1335.4 L602.4 1337.8 L599.0 1340.1 L595.7 1342.4 L592.3 1344.7 L589.0 1346.9 L585.7 1349.1 L582.3 1351.2 L579.0 1353.3 L575.7 1355.3 L572.3 1357.3 L569.0 1359.3 L565.6 1361.2 L562.3 1363.1 L559.0 1365.0 L555.6 1366.8 L552.3 1368.5 L549.0 1370.3 L545.6 1372.0 L542.3 1373.6 L539.0 1375.3 L535.6 1376.9 L532.3 1378.4 L528.9 1379.9 L525.6 1381.4 L522.3 1382.9 L518.9 1384.3 L515.6 1385.7 L512.3 1387.0 L508.9 1388.3 L505.6 1389.6 L502.3 1390.9 L498.9 1392.1 L495.6 1393.3 L492.2 1394.5 L488.9 1395.6 L485.6 1396.7 L482.2 1397.8 L478.9 1398.8 L475.5 1399.8 L472.2 1400.8 L468.9 1401.8 L465.5 1402.7 L462.2 1403.6 L458.8 1404.5 L455.5 1405.4 L452.2 1406.2 L448.8 1407.0 L445.5 1407.8 L442.1 1408.5 L438.8 1409.2 L435.4 1410.0 L432.1 1410.6 L428.8 1411.3 L425.4 1411.9 L422.1 1412.5 L418.7 1413.1 L415.4 1413.7 L412.0 1414.3 L408.7 1414.8 L405.3 1415.3 L402.0 1415.8 L398.6 1416.3 L395.3 1416.7 L391.9 1417.1 L388.6 1417.6 L385.2 1417.9 L381.9 1418.3 L378.5 1418.7 L375.2 1419.0 L371.8 1419.4 L368.4 1419.7 L365.1 1420.0 L361.7 1420.3 L358.4 1420.5 L355.0 1420.8 L351.6 1421.0 L348.3 1421.2 L344.9 1421.4 L341.6 1421.6 L338.2 1421.8 L334.8 1422.0 L331.5 1422.2 L328.1 1422.3 L324.7 1422.5 L321.4 1422.6 L318.0 1422.7 L314.6 1422.8 L311.3 1422.9 L307.9 1423.0 L304.5 1423.1 L301.2 1423.2 L297.8 1423.3 L294.4 1423.3 L291.1 1423.4 L287.7 1423.4 L284.3 1423.5 L280.9 1423.5 L277.6 1423.5 L274.2 1423.6 L270.8 1423.6 L267.4 1423.6 L264.0 1423.6 L260.7 1423.6 L257.3 1423.6 L253.9 1423.6 L250.5 1423.6 L247.1 1423.6 L243.8 1423.6 L240.4 1423.6 L236.0 1423.6Z"/>
<rect x="1075.6" y="390" width="803.4" height="11" fill="#ff0080"/>
<path fill="#d8d800" d="M237.0 1435.3 L240.3 1435.3 L243.6 1435.3 L246.8 1435.3 L250.1 1435.3 L253.4 1435.3 L256.7 1435.3 L260.0 1435.3 L263.3 1435.3 L266.5 1435.3 L269.8 1435.3 L273.1 1435.3 L276.4 1435.3 L279.7 1435.3 L282.9 1435.3 L286.2 1435.3 L289.5 1435.3 L292.8 1435.3 L296.1 1435.3 L299.4 1435.3 L302.6 1435.3 L305.9 1435.3 L309.2 1435.3 L312.5 1435.3 L315.8 1435.3 L319.1 1435.3 L322.3 1435.3 L325.6 1435.3 L328.9 1435.3 L332.2 1435.3 L335.5 1435.3 L338.7 1435.3 L342.0 1435.3 L345.3 1435.3 L348.6 1435.3 L351.9 1435.3 L355.2 1435.3 L358.4 1435.3 L361.7 1435.3 L365.0 1435.3 L368.3 1435.3 L371.6 1435.3 L374.9 1435.3 L378.1 1435.3 L381.4 1435.3 L384.7 1435.3 L388.0 1435.3 L391.3 1435.2 L394.6 1435.2 L397.9 1435.1 L401.2 1435.1 L404.5 1435.0 L407.8 1434.9 L411.2 1434.8 L414.5 1434.7 L417.8 1434.5 L421.1 1434.3 L424.5 1434.1 L427.8 1433.9 L431.2 1433.6 L434.5 1433.2 L437.9 1432.9 L441.3 1432.4 L444.7 1432.0 L448.0 1431.4 L451.4 1430.8 L454.8 1430.1 L458.2 1429.4 L461.7 1428.6 L465.1 1427.6 L468.5 1426.6 L471.9 1425.5 L475.3 1424.4 L478.8 1423.1 L482.2 1421.7 L485.6 1420.2 L489.1 1418.5 L492.5 1416.8 L495.9 1414.9 L499.4 1412.9 L502.8 1410.8 L506.2 1408.6 L509.6 1406.2 L513.1 1403.7 L516.5 1401.0 L519.9 1398.2 L523.3 1395.3 L526.7 1392.2 L530.0 1389.0 L533.4 1385.7 L536.8 1382.1 L540.2 1378.5 L543.5 1374.7 L546.9 1370.7 L550.3 1366.6 L553.6 1362.4 L557.0 1358.0 L560.3 1353.4 L563.6 1348.7 L567.0 1343.9 L570.3 1338.9 L573.6 1333.7 L577.0 1328.5 L580.3 1323.0 L583.6 1317.4 L586.9 1311.7 L590.2 1305.9 L593.5 1299.9 L596.9 1293.7 L600.2 1287.5 L603.5 1281.1 L606.8 1274.5 L610.1 1267.9 L613.4 1261.1 L616.7 1254.2 L620.0 1247.2 L623.3 1240.0 L626.6 1232.8 L629.9 1225.4 L633.2 1217.9 L636.5 1210.3 L639.8 1202.6 L643.1 1194.9 L646.3 1187.0 L649.6 1179.0 L652.9 1170.9 L656.2 1162.8 L659.5 1154.6 L662.8 1146.3 L666.1 1137.9 L669.4 1129.4 L672.7 1120.9 L676.0 1112.3 L679.2 1103.7 L682.5 1095.0 L685.8 1086.3 L689.1 1077.5 L692.4 1068.6 L695.7 1059.7 L699.0 1050.8 L702.2 1041.8 L705.5 1032.9 L708.8 1023.8 L712.1 1014.8 L715.4 1005.7 L718.7 996.7 L721.9 987.6 L725.2 978.5 L728.5 969.4 L731.8 960.2 L735.1 951.1 L738.4 942.0 L741.6 932.9 L744.9 923.8 L748.2 914.7 L751.5 905.7 L754.8 896.6 L758.0 887.6 L761.3 878.6 L764.6 869.6 L767.9 860.7 L771.2 851.8 L774.4 842.9 L777.7 834.1 L781.0 825.3 L784.3 816.6 L787.5 807.9 L790.8 799.2 L794.1 790.6 L797.4 782.1 L800.7 773.6 L803.9 765.1 L807.2 756.8 L810.5 748.5 L813.8 740.2 L817.0 732.1 L820.3 724.0 L823.6 715.9 L826.9 708.0 L830.1 700.1 L833.4 692.3 L836.7 684.6 L840.0 676.9 L843.2 669.4 L846.5 661.9 L849.8 654.5 L853.0 647.2 L856.3 640.0 L859.6 632.8 L862.8 625.8 L866.1 618.9 L869.4 612.0 L872.6 605.3 L875.9 598.6 L879.2 592.1 L882.4 585.6 L885.7 579.3 L889.0 573.0 L892.2 566.9 L895.5 560.8 L898.7 554.9 L902.0 549.1 L905.3 543.3 L908.5 537.7 L911.8 532.2 L915.0 526.8 L918.3 521.5 L921.5 516.3 L924.8 511.3 L928.0 506.3 L931.3 501.5 L934.5 496.8 L937.7 492.1 L941.0 487.6 L944.2 483.3 L947.5 479.0 L950.7 474.8 L953.9 470.8 L957.1 466.9 L960.4 463.1 L963.6 459.4 L966.8 455.8 L970.0 452.4 L973.2 449.0 L976.4 445.8 L979.6 442.7 L982.8 439.7 L986.0 436.9 L989.2 434.1 L992.4 431.5 L995.5 429.0 L998.7 426.6 L1001.9 424.3 L1005.0 422.2 L1008.2 420.1 L1011.3 418.2 L1014.5 416.4 L1017.6 414.7 L1020.7 413.1 L1023.8 411.6 L1027.0 410.3 L1030.1 409.0 L1033.2 407.9 L1036.3 406.9 L1039.4 406.0 L1042.5 405.2 L1045.5 404.5 L1048.6 403.9 L1051.7 403.4 L1054.8 403.1 L1057.9 402.8 L1060.9 402.6 L1064.0 402.6 L1067.1 402.7 L1070.2 402.9 L1073.3 403.2 L1076.4 403.6 L1079.4 404.1 L1082.5 404.7 L1085.6 405.4 L1088.7 406.2 L1091.8 407.2 L1094.9 408.2 L1098.1 409.3 L1101.2 410.6 L1104.3 411.9 L1107.4 413.4 L1110.6 415.0 L1113.7 416.6 L1116.9 418.4 L1120.0 420.3 L1123.2 422.3 L1126.3 424.4 L1129.5 426.6 L1132.7 428.9 L1135.9 431.3 L1139.1 433.8 L1142.2 436.4 L1145.4 439.1 L1148.6 441.9 L1151.8 444.8 L1155.1 447.9 L1158.3 451.0 L1161.5 454.2 L1164.7 457.5 L1167.9 460.9 L1171.1 464.5 L1174.4 468.1 L1177.6 471.8 L1180.8 475.6 L1184.1 479.6 L1187.3 483.6 L1190.5 487.7 L1193.8 491.9 L1197.0 496.2 L1200.3 500.6 L1203.5 505.1 L1206.8 509.6 L1210.0 514.3 L1213.3 519.1 L1216.5 523.9 L1219.8 528.9 L1223.0 533.9 L1226.3 539.0 L1229.5 544.3 L1232.8 549.6 L1236.1 555.0 L1239.3 560.4 L1242.6 566.0 L1245.8 571.7 L1249.1 577.4 L1252.4 583.2 L1255.6 589.1 L1258.9 595.1 L1262.2 601.2 L1265.4 607.3 L1268.7 613.6 L1272.0 619.9 L1275.2 626.3 L1278.5 632.8 L1281.8 639.3 L1285.0 646.0 L1288.3 652.7 L1291.6 659.5 L1294.8 666.3 L1298.1 673.3 L1301.4 680.3 L1304.6 687.4 L1307.9 694.5 L1311.2 701.8 L1314.5 709.1 L1317.7 716.5 L1321.0 724.0 L1324.3 731.5 L1327.6 739.1 L1330.8 746.8 L1334.1 754.5 L1337.4 762.3 L1340.7 770.2 L1343.9 778.1 L1347.2 786.2 L1350.5 794.2 L1353.8 802.4 L1357.0 810.6 L1360.3 818.9 L1363.6 827.2 L1366.9 835.7 L1370.1 844.1 L1373.4 852.7 L1376.7 861.3 L1380.0 869.9 L1383.2 878.7 L1386.5 887.4 L1389.8 896.3 L1393.1 905.2 L1396.3 914.2 L1399.6 923.2 L1402.9 932.3 L1406.2 941.4 L1409.5 950.6 L1412.7 959.9 L1416.0 969.2 L1419.3 978.5 L1422.6 988.0 L1425.8 997.4 L1429.1 1007.0 L1432.4 1016.5 L1435.7 1026.2 L1439.0 1035.9 L1442.2 1045.6 L1445.5 1055.4 L1448.8 1065.3 L1452.1 1075.2 L1455.4 1085.1 L1458.6 1095.1 L1461.9 1105.1 L1465.2 1115.2 L1468.5 1125.4 L1471.8 1135.6 L1475.0 1145.8 L1478.3 1156.1 L1481.6 1166.4 L1484.9 1176.8 L1488.2 1187.3 L1491.4 1197.7 L1494.7 1208.2 L1498.0 1218.8 L1501.3 1229.4 L1504.6 1240.1 L1507.8 1250.7 L1511.1 1261.5 L1514.4 1272.3 L1517.7 1283.1 L1521.0 1293.9 L1524.2 1304.8 L1527.5 1315.8 L1530.8 1326.8 L1534.1 1337.8 L1537.4 1348.8 L1540.6 1359.9 L1543.9 1371.1 L1547.2 1382.2 L1550.5 1393.5 L1553.8 1404.7 L1557.0 1416.0 L1560.3 1427.3 L1563.6 1438.7 L1566.9 1450.1 L1570.2 1461.5 L1582.0 1458.1 L1578.7 1446.7 L1575.4 1435.3 L1572.1 1423.9 L1568.8 1412.6 L1565.5 1401.3 L1562.3 1390.0 L1559.0 1378.8 L1555.7 1367.6 L1552.4 1356.5 L1549.1 1345.4 L1545.8 1334.3 L1542.6 1323.2 L1539.3 1312.3 L1536.0 1301.3 L1532.7 1290.4 L1529.4 1279.5 L1526.1 1268.7 L1522.9 1257.9 L1519.6 1247.2 L1516.3 1236.4 L1513.0 1225.8 L1509.7 1215.2 L1506.4 1204.6 L1503.1 1194.1 L1499.9 1183.6 L1496.6 1173.1 L1493.3 1162.7 L1490.0 1152.4 L1486.7 1142.1 L1483.4 1131.8 L1480.2 1121.6 L1476.9 1111.5 L1473.6 1101.3 L1470.3 1091.3 L1467.0 1081.3 L1463.7 1071.3 L1460.4 1061.4 L1457.2 1051.5 L1453.9 1041.7 L1450.6 1031.9 L1447.3 1022.2 L1444.0 1012.6 L1440.7 1003.0 L1437.4 993.4 L1434.2 983.9 L1430.9 974.5 L1427.6 965.1 L1424.3 955.8 L1421.0 946.5 L1417.7 937.3 L1414.4 928.1 L1411.2 919.0 L1407.9 910.0 L1404.6 901.0 L1401.3 892.0 L1398.0 883.2 L1394.7 874.4 L1391.4 865.6 L1388.1 856.9 L1384.9 848.3 L1381.6 839.7 L1378.3 831.2 L1375.0 822.8 L1371.7 814.4 L1368.4 806.1 L1365.1 797.8 L1361.8 789.7 L1358.6 781.5 L1355.3 773.5 L1352.0 765.5 L1348.7 757.6 L1345.4 749.7 L1342.1 742.0 L1338.8 734.3 L1335.5 726.6 L1332.2 719.0 L1328.9 711.5 L1325.7 704.1 L1322.4 696.8 L1319.1 689.5 L1315.8 682.3 L1312.5 675.1 L1309.2 668.1 L1305.9 661.1 L1302.6 654.2 L1299.3 647.3 L1296.0 640.6 L1292.7 633.9 L1289.4 627.3 L1286.1 620.7 L1282.8 614.3 L1279.5 607.9 L1276.2 601.6 L1272.9 595.4 L1269.6 589.3 L1266.3 583.2 L1263.0 577.3 L1259.7 571.4 L1256.4 565.6 L1253.1 559.9 L1249.8 554.2 L1246.5 548.7 L1243.2 543.2 L1239.9 537.8 L1236.6 532.5 L1233.3 527.3 L1230.0 522.2 L1226.7 517.2 L1223.4 512.2 L1220.1 507.4 L1216.7 502.6 L1213.4 498.0 L1210.1 493.4 L1206.8 488.9 L1203.5 484.5 L1200.1 480.2 L1196.8 476.0 L1193.5 471.9 L1190.2 467.8 L1186.8 463.9 L1183.5 460.1 L1180.2 456.3 L1176.8 452.7 L1173.5 449.1 L1170.1 445.7 L1166.8 442.3 L1163.4 439.1 L1160.1 435.9 L1156.7 432.9 L1153.3 429.9 L1150.0 427.1 L1146.6 424.3 L1143.2 421.7 L1139.8 419.2 L1136.5 416.7 L1133.1 414.4 L1129.7 412.2 L1126.3 410.0 L1122.9 408.0 L1119.4 406.1 L1116.0 404.3 L1112.6 402.6 L1109.2 401.0 L1105.7 399.6 L1102.3 398.2 L1098.8 397.0 L1095.4 395.8 L1091.9 394.8 L1088.5 393.9 L1085.0 393.1 L1081.5 392.5 L1078.0 391.9 L1074.6 391.5 L1071.1 391.2 L1067.6 391.0 L1064.1 390.9 L1060.6 390.9 L1057.1 391.1 L1053.6 391.4 L1050.2 391.7 L1046.7 392.3 L1043.2 392.9 L1039.7 393.6 L1036.2 394.5 L1032.8 395.5 L1029.3 396.6 L1025.9 397.9 L1022.4 399.2 L1018.9 400.7 L1015.5 402.3 L1012.1 404.1 L1008.6 405.9 L1005.2 407.9 L1001.8 409.9 L998.4 412.1 L995.0 414.4 L991.6 416.9 L988.2 419.4 L984.8 422.1 L981.4 424.9 L978.0 427.8 L974.6 430.8 L971.3 433.9 L967.9 437.2 L964.6 440.5 L961.2 444.0 L957.8 447.6 L954.5 451.3 L951.2 455.1 L947.8 459.1 L944.5 463.1 L941.1 467.3 L937.8 471.6 L934.5 476.0 L931.1 480.5 L927.8 485.1 L924.5 489.8 L921.2 494.6 L917.9 499.6 L914.5 504.6 L911.2 509.8 L907.9 515.1 L904.6 520.5 L901.3 526.0 L898.0 531.5 L894.7 537.2 L891.4 543.1 L888.1 549.0 L884.7 555.0 L881.4 561.1 L878.1 567.3 L874.8 573.6 L871.5 580.1 L868.2 586.6 L864.9 593.2 L861.6 599.9 L858.3 606.7 L855.0 613.6 L851.8 620.6 L848.5 627.7 L845.2 634.9 L841.9 642.1 L838.6 649.5 L835.3 656.9 L832.0 664.5 L828.7 672.1 L825.4 679.8 L822.1 687.5 L818.8 695.4 L815.5 703.3 L812.2 711.3 L809.0 719.3 L805.7 727.5 L802.4 735.7 L799.1 744.0 L795.8 752.3 L792.5 760.7 L789.2 769.1 L785.9 777.7 L782.7 786.2 L779.4 794.8 L776.1 803.5 L772.8 812.2 L769.5 821.0 L766.2 829.8 L762.9 838.7 L759.6 847.6 L756.4 856.5 L753.1 865.4 L749.8 874.4 L746.5 883.4 L743.2 892.5 L739.9 901.5 L736.7 910.6 L733.4 919.7 L730.1 928.8 L726.8 937.9 L723.5 947.0 L720.2 956.1 L717.0 965.2 L713.7 974.3 L710.4 983.4 L707.1 992.5 L703.8 1001.6 L700.6 1010.6 L697.3 1019.6 L694.0 1028.7 L690.7 1037.6 L687.4 1046.6 L684.2 1055.5 L680.9 1064.4 L677.6 1073.2 L674.3 1082.0 L671.1 1090.7 L667.8 1099.4 L664.5 1108.0 L661.2 1116.5 L657.9 1125.0 L654.7 1133.4 L651.4 1141.8 L648.1 1150.0 L644.8 1158.2 L641.6 1166.3 L638.3 1174.3 L635.0 1182.3 L631.8 1190.1 L628.5 1197.8 L625.2 1205.5 L621.9 1213.0 L618.7 1220.4 L615.4 1227.7 L612.1 1234.9 L608.9 1242.0 L605.6 1248.9 L602.4 1255.8 L599.1 1262.5 L595.8 1269.1 L592.6 1275.5 L589.3 1281.8 L586.1 1288.0 L582.8 1294.0 L579.6 1299.9 L576.3 1305.7 L573.1 1311.3 L569.8 1316.7 L566.6 1322.0 L563.3 1327.2 L560.1 1332.2 L556.9 1337.0 L553.6 1341.7 L550.4 1346.3 L547.2 1350.7 L544.0 1354.9 L540.8 1359.0 L537.6 1362.9 L534.3 1366.7 L531.2 1370.4 L528.0 1373.8 L524.8 1377.2 L521.6 1380.3 L518.4 1383.4 L515.2 1386.3 L512.1 1389.0 L508.9 1391.6 L505.8 1394.1 L502.6 1396.4 L499.5 1398.6 L496.3 1400.7 L493.2 1402.6 L490.1 1404.5 L486.9 1406.2 L483.8 1407.8 L480.7 1409.3 L477.5 1410.7 L474.4 1412.0 L471.3 1413.2 L468.1 1414.3 L465.0 1415.3 L461.8 1416.2 L458.7 1417.1 L455.5 1417.9 L452.4 1418.6 L449.2 1419.2 L446.1 1419.8 L442.9 1420.3 L439.7 1420.8 L436.5 1421.2 L433.3 1421.5 L430.1 1421.9 L426.9 1422.1 L423.7 1422.4 L420.4 1422.6 L417.2 1422.8 L414.0 1422.9 L410.7 1423.1 L407.5 1423.2 L404.2 1423.3 L401.0 1423.4 L397.7 1423.4 L394.5 1423.5 L391.2 1423.5 L387.9 1423.5 L384.7 1423.6 L381.4 1423.6 L378.1 1423.6 L374.8 1423.6 L371.5 1423.6 L368.3 1423.6 L365.0 1423.6 L361.7 1423.6 L358.4 1423.6 L355.1 1423.6 L351.9 1423.6 L348.6 1423.6 L345.3 1423.6 L342.0 1423.6 L338.7 1423.6 L335.5 1423.6 L332.2 1423.6 L328.9 1423.6 L325.6 1423.6 L322.3 1423.6 L319.0 1423.6 L315.8 1423.6 L312.5 1423.6 L309.2 1423.6 L305.9 1423.6 L302.6 1423.6 L299.4 1423.6 L296.1 1423.6 L292.8 1423.6 L289.5 1423.6 L286.2 1423.7 L282.9 1423.7 L279.7 1423.7 L276.4 1423.7 L273.1 1423.7 L269.8 1423.7 L266.5 1423.7 L263.3 1423.7 L260.0 1423.7 L256.7 1423.7 L253.4 1423.7 L250.1 1423.7 L246.8 1423.7 L243.6 1423.7 L240.3 1423.7 L237.0 1423.7Z"/>
</g>
<text x="222" y="1455.3" text-anchor="end">0</text>
<text x="222" y="1196.7" text-anchor="end">0.5</text>
<clipPath id="k1"><rect x="162.8" y="858.1" width="500" height="73.5"/>
<rect x="172.79" y="931.4" width="16.07" height="30"/>
<rect x="202.57" y="931.4" width="6.73" height="30"/>
<rect x="222.46" y="931.4" width="360.33" height="30"/>
</clipPath>
<g clip-path="url(#k1)"><text x="185.1" y="938.1">1</text></g>
<clipPath id="k2"><rect x="104.0" y="599.5" width="500" height="73.5"/>
<rect x="114.00" y="672.8" width="16.07" height="30"/>
<rect x="143.77" y="672.8" width="6.73" height="30"/>
<rect x="163.66" y="672.8" width="360.33" height="30"/>
</clipPath>
<g clip-path="url(#k2)"><text x="126.3 163.2 182.8" y="679.5">1.5</text></g>
<text x="222" y="420.9" text-anchor="end">2</text>
<text x="222" y="162.3" text-anchor="end">2.5</text>
<text x="237.5" y="1509.2" text-anchor="middle">0</text>
<clipPath id="k3"><rect x="526.1" y="1429.2" width="500" height="73.5"/>
<rect x="536.10" y="1502.5" width="16.07" height="30"/>
<rect x="565.87" y="1502.5" width="6.73" height="30"/>
<rect x="585.76" y="1502.5" width="360.33" height="30"/>
</clipPath>
<g clip-path="url(#k3)"><text x="548.4" y="1509.2">1</text></g>
<text x="893.9" y="1509.2" text-anchor="middle">2</text>
<text x="1222.1" y="1509.2" text-anchor="middle">3</text>
<text x="1550.3" y="1509.2" text-anchor="middle">4</text>
<text x="1878.5" y="1509.2" text-anchor="middle">5</text>
<clipPath id="k4"><rect x="216.4" y="34.0" width="500" height="73.5"/>
<rect x="226.40" y="107.3" width="70.91" height="30"/>
<rect x="311.02" y="107.3" width="6.73" height="30"/>
<rect x="330.90" y="107.3" width="305.50" height="30"/>
</clipPath>
<g clip-path="url(#k4)"><text x="236.4 271.6 293.5 330.4" y="114.0">x 10</text></g>
<text x="368.8" y="69.6" style="font-size:48px">6</text>
<text x="230" y="1588.4">Wind generator speed (rd/s)</text>
<text transform="translate(86.4 781.1) rotate(-90)" text-anchor="middle">Power (W)</text>
<text x="568" y="283" style="fill:#ff0080;stroke:#ff0080">Maximum power point</text>
<clipPath id="k5"><rect x="934.6" y="905.8" width="500" height="73.5"/>
<rect x="944.60" y="979.1" width="63.09" height="30"/>
<rect x="1021.40" y="979.1" width="6.73" height="30"/>
<rect x="1041.29" y="979.1" width="313.31" height="30"/>
</clipPath>
<g clip-path="url(#k5)"><text x="954.6 1003.9" y="985.8" style="fill:#900080;stroke:#900080">V1</text></g>
<text x="992.7" y="902.7" style="fill:#00bfbf;stroke:#00bfbf">V2</text>
<text x="1041.6" y="773.8" style="fill:#e88000;stroke:#e88000">V3</text>
<text x="1094.4" y="642.6" style="fill:#008040;stroke:#008040">V4</text>
<text x="1264.9" y="573.9" style="fill:#a8a800;stroke:#a8a800">Vn</text>
<g shape-rendering="crispEdges">
<line x1="1289.9" y1="286.5" x2="1362" y2="350.5" stroke="#ff0080" stroke-width="4.6" stroke-linecap="round"/>
<polygon points="1388.1,373.3 1361.5,324.0 1360.6,349.2 1335.6,353.5" fill="#ff0080"/>
</g>
</svg>
</body></html>
